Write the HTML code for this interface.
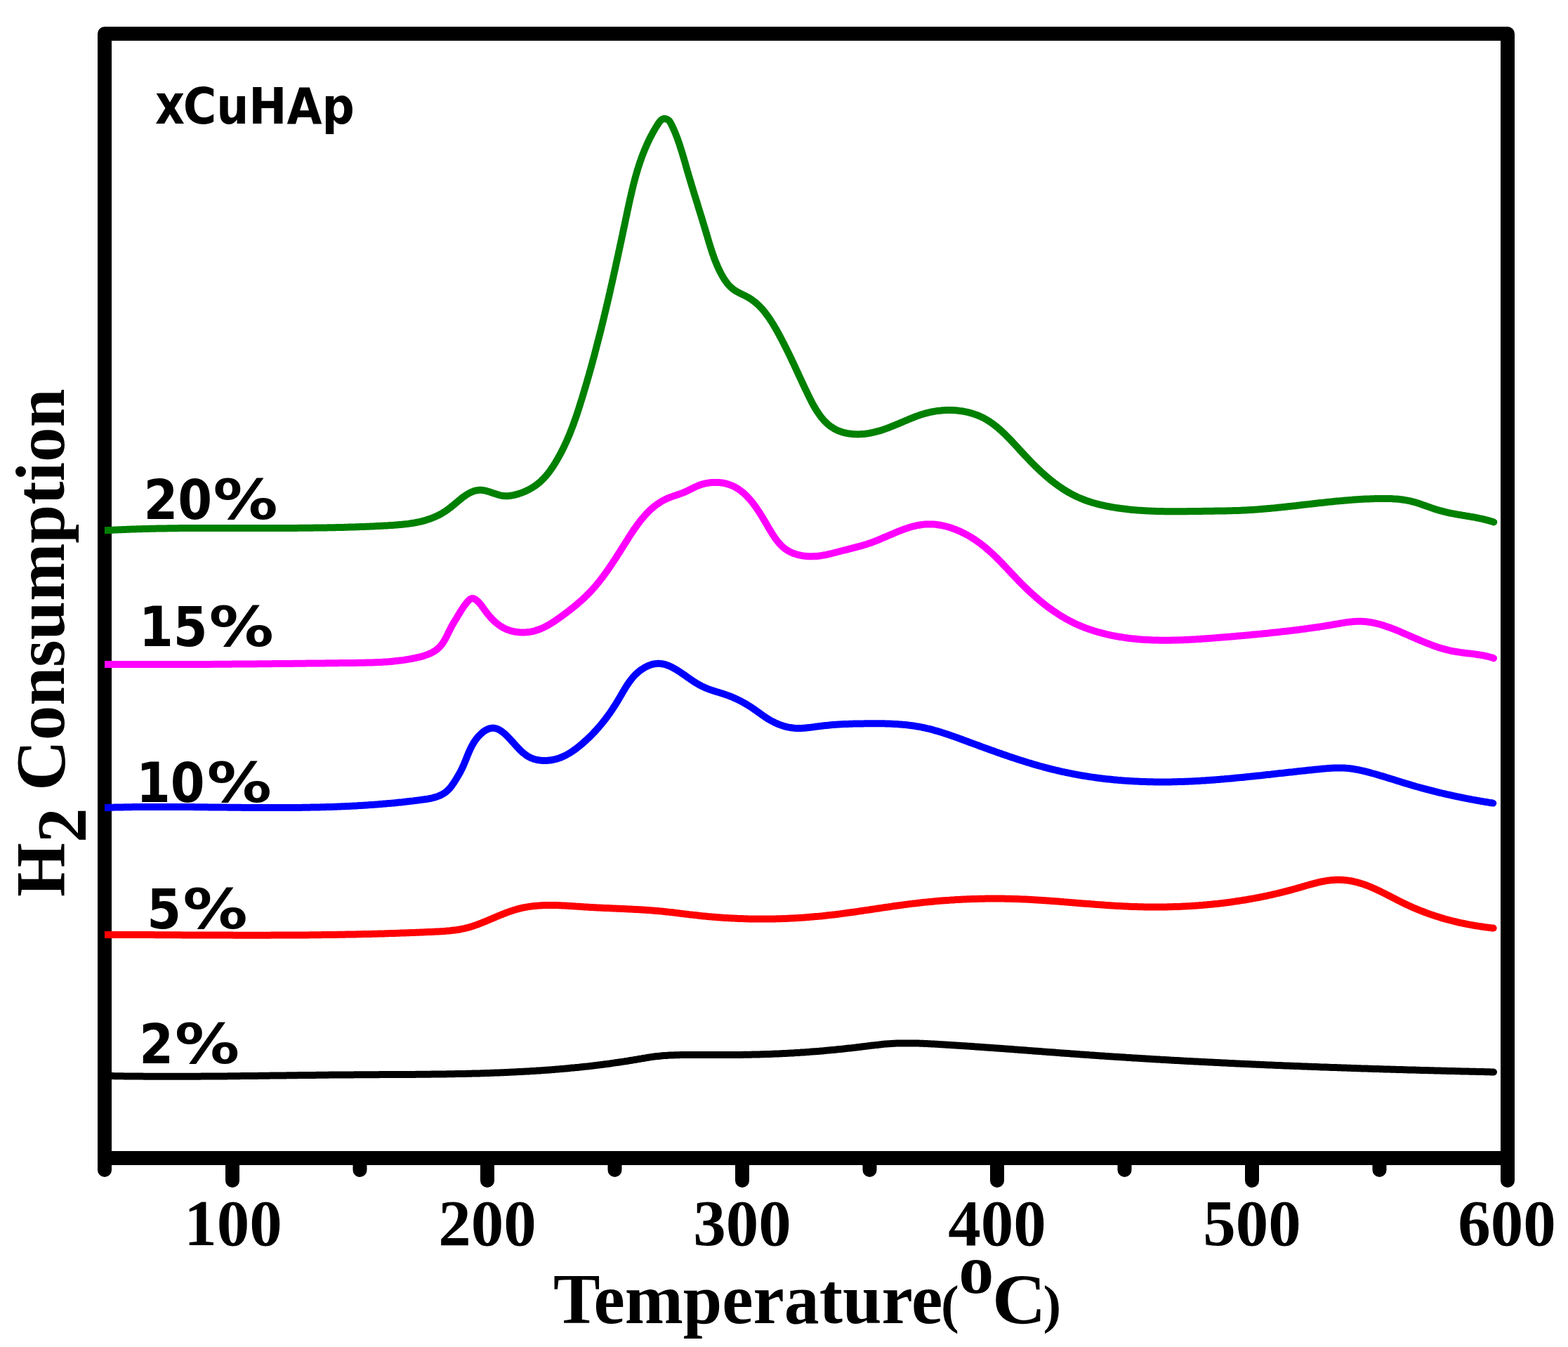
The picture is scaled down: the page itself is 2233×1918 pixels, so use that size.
<!DOCTYPE html>
<html><head><meta charset="utf-8"><title>H2 Consumption vs Temperature (xCuHAp)</title>
<style>
html,body{margin:0;padding:0;background:#fff;}
body{width:2233px;height:1918px;overflow:hidden;}
svg{display:block;}
.serif{font-family:"Liberation Serif",serif;font-weight:bold;}
.sc{font-family:"DejaVu Sans Condensed","DejaVu Sans","Liberation Sans",sans-serif;font-stretch:condensed;font-weight:bold;}
.sb{font-family:"DejaVu Sans","Liberation Sans",sans-serif;font-weight:bold;}
</style></head>
<body>
<svg width="2233" height="1918" viewBox="0 0 2233 1918">
<rect x="0" y="0" width="2233" height="1918" fill="#fff"/>
<rect x="149" y="48" width="1998" height="1601" fill="none" stroke="#000" stroke-width="20" stroke-linejoin="round"/>
<g stroke="#000" stroke-width="20" stroke-linecap="round"><line x1="149.0" y1="1650" x2="149.0" y2="1666"/><line x1="331.0" y1="1650" x2="331.0" y2="1681"/><line x1="512.5" y1="1650" x2="512.5" y2="1666"/><line x1="694.0" y1="1650" x2="694.0" y2="1681"/><line x1="875.5" y1="1650" x2="875.5" y2="1666"/><line x1="1057.0" y1="1650" x2="1057.0" y2="1681"/><line x1="1238.5" y1="1650" x2="1238.5" y2="1666"/><line x1="1420.0" y1="1650" x2="1420.0" y2="1681"/><line x1="1601.5" y1="1650" x2="1601.5" y2="1666"/><line x1="1783.0" y1="1650" x2="1783.0" y2="1681"/><line x1="1964.5" y1="1650" x2="1964.5" y2="1666"/><line x1="2147.0" y1="1650" x2="2147.0" y2="1681"/></g>
<clipPath id="clip"><rect x="149" y="0" width="2000" height="1918"/></clipPath>
<g fill="none" stroke-width="10" stroke-linecap="round" stroke-linejoin="round" clip-path="url(#clip)">
<path d="M145.0,1531.8L147.0,1531.9 149.0,1531.9 151.0,1531.9 153.0,1532.0 155.0,1532.0 157.0,1532.1 159.0,1532.1 161.0,1532.1 163.0,1532.2 165.0,1532.2 167.0,1532.2 169.0,1532.3 171.0,1532.3 173.0,1532.3 175.0,1532.3 177.0,1532.4 179.0,1532.4 181.0,1532.4 183.0,1532.4 185.0,1532.5 187.0,1532.5 189.0,1532.5 191.0,1532.5 193.0,1532.6 195.0,1532.6 197.0,1532.6 199.0,1532.6 201.0,1532.6 203.0,1532.6 205.0,1532.7 207.0,1532.7 209.0,1532.7 211.0,1532.7 213.0,1532.7 215.0,1532.7 217.0,1532.7 219.0,1532.7 221.0,1532.7 223.0,1532.7 225.0,1532.8 227.0,1532.8 229.0,1532.8 231.0,1532.8 233.0,1532.8 235.0,1532.8 237.0,1532.8 239.0,1532.8 241.0,1532.8 243.0,1532.8 245.0,1532.8 247.0,1532.8 249.0,1532.8 251.0,1532.8 253.0,1532.8 255.0,1532.8 257.0,1532.8 259.0,1532.8 261.0,1532.8 263.0,1532.8 265.0,1532.7 267.0,1532.7 269.0,1532.7 271.0,1532.7 273.0,1532.7 275.0,1532.7 277.0,1532.7 279.0,1532.7 281.0,1532.7 283.0,1532.7 285.0,1532.7 287.0,1532.6 289.0,1532.6 291.0,1532.6 293.0,1532.6 295.0,1532.6 297.0,1532.6 299.0,1532.6 301.0,1532.5 303.0,1532.5 305.0,1532.5 307.0,1532.5 309.0,1532.5 311.0,1532.5 313.0,1532.4 315.0,1532.4 317.0,1532.4 319.0,1532.4 321.0,1532.4 323.0,1532.4 325.0,1532.3 327.0,1532.3 329.0,1532.3 331.0,1532.3 333.0,1532.3 335.0,1532.2 337.0,1532.2 339.0,1532.2 341.0,1532.2 343.0,1532.1 345.0,1532.1 347.0,1532.1 349.0,1532.1 350.9,1532.1 352.9,1532.0 354.9,1532.0 356.9,1532.0 358.9,1532.0 360.9,1531.9 362.9,1531.9 364.9,1531.9 366.9,1531.9 368.9,1531.8 370.9,1531.8 372.9,1531.8 374.9,1531.8 376.9,1531.7 378.9,1531.7 380.9,1531.7 382.9,1531.7 384.9,1531.6 386.9,1531.6 388.9,1531.6 390.9,1531.6 392.9,1531.5 394.9,1531.5 396.9,1531.5 398.9,1531.5 400.9,1531.4 402.9,1531.4 404.9,1531.4 406.9,1531.4 408.9,1531.3 410.9,1531.3 412.9,1531.3 414.9,1531.3 416.9,1531.2 418.9,1531.2 420.9,1531.2 422.9,1531.2 424.9,1531.1 426.9,1531.1 428.9,1531.1 430.9,1531.1 432.9,1531.0 434.9,1531.0 436.9,1531.0 438.9,1531.0 440.9,1531.0 442.9,1530.9 444.9,1530.9 446.9,1530.9 448.9,1530.9 450.9,1530.8 452.9,1530.8 454.9,1530.8 456.9,1530.8 458.9,1530.7 460.9,1530.7 462.9,1530.7 464.9,1530.7 466.9,1530.7 468.9,1530.6 470.9,1530.6 472.9,1530.6 474.9,1530.6 476.9,1530.6 478.9,1530.5 480.9,1530.5 482.9,1530.5 484.9,1530.5 486.9,1530.5 488.9,1530.5 490.9,1530.4 492.9,1530.4 494.9,1530.4 496.9,1530.4 498.9,1530.4 500.9,1530.4 502.9,1530.4 504.9,1530.3 506.9,1530.3 508.9,1530.3 510.9,1530.3 512.9,1530.3 514.9,1530.3 516.9,1530.3 518.9,1530.3 520.9,1530.2 522.9,1530.2 524.9,1530.2 526.9,1530.2 528.9,1530.2 530.9,1530.2 532.9,1530.2 534.9,1530.2 536.9,1530.2 538.9,1530.2 540.9,1530.1 542.9,1530.1 544.9,1530.1 546.9,1530.1 548.9,1530.1 550.9,1530.1 552.9,1530.1 554.9,1530.1 556.9,1530.1 558.9,1530.1 560.9,1530.0 562.9,1530.0 564.9,1530.0 566.9,1530.0 568.9,1530.0 570.9,1530.0 572.9,1530.0 574.9,1530.0 576.9,1530.0 578.9,1529.9 580.9,1529.9 582.9,1529.9 584.9,1529.9 586.9,1529.9 588.9,1529.9 590.9,1529.9 592.9,1529.8 594.9,1529.8 596.9,1529.8 598.9,1529.8 600.9,1529.8 602.9,1529.8 604.9,1529.7 606.9,1529.7 608.9,1529.7 610.9,1529.7 612.9,1529.7 614.9,1529.6 616.9,1529.6 618.9,1529.6 620.9,1529.6 622.9,1529.5 624.9,1529.5 626.9,1529.5 628.9,1529.5 630.9,1529.4 632.9,1529.4 634.9,1529.4 636.9,1529.3 638.9,1529.3 640.9,1529.3 642.9,1529.2 644.9,1529.2 646.9,1529.2 648.9,1529.1 650.9,1529.1 652.9,1529.1 654.9,1529.0 656.9,1529.0 658.9,1528.9 660.9,1528.9 662.9,1528.9 664.9,1528.8 666.9,1528.8 668.9,1528.7 670.9,1528.7 672.9,1528.6 674.9,1528.6 676.9,1528.5 678.9,1528.5 680.9,1528.4 682.9,1528.4 684.9,1528.3 686.9,1528.2 688.9,1528.2 690.9,1528.1 692.9,1528.0 694.9,1528.0 696.9,1527.9 698.9,1527.8 700.9,1527.8 702.9,1527.7 704.9,1527.6 706.9,1527.6 708.9,1527.5 710.9,1527.4 712.9,1527.3 714.9,1527.2 716.9,1527.2 718.9,1527.1 720.9,1527.0 722.8,1526.9 724.8,1526.8 726.8,1526.7 728.8,1526.6 730.8,1526.5 732.8,1526.4 734.8,1526.3 736.8,1526.2 738.8,1526.1 740.8,1526.0 742.8,1525.9 744.8,1525.8 746.8,1525.7 748.8,1525.6 750.8,1525.5 752.8,1525.4 754.8,1525.2 756.8,1525.1 758.8,1525.0 760.8,1524.9 762.8,1524.8 764.8,1524.6 766.7,1524.5 768.7,1524.4 770.7,1524.2 772.7,1524.1 774.7,1523.9 776.7,1523.8 778.7,1523.7 780.7,1523.5 782.7,1523.4 784.7,1523.2 786.7,1523.1 788.7,1522.9 790.7,1522.7 792.7,1522.6 794.6,1522.4 796.6,1522.3 798.6,1522.1 800.6,1521.9 802.6,1521.7 804.6,1521.6 806.6,1521.4 808.6,1521.2 810.6,1521.0 812.6,1520.8 814.6,1520.6 816.6,1520.4 818.5,1520.3 820.5,1520.1 822.5,1519.9 824.5,1519.7 826.5,1519.4 828.5,1519.2 830.5,1519.0 832.5,1518.8 834.4,1518.6 836.4,1518.4 838.4,1518.2 840.4,1517.9 842.4,1517.7 844.4,1517.5 846.4,1517.2 848.4,1517.0 850.3,1516.8 852.3,1516.5 854.3,1516.3 856.3,1516.0 858.3,1515.8 860.3,1515.5 862.2,1515.2 864.2,1515.0 866.2,1514.7 868.2,1514.5 870.2,1514.2 872.1,1513.9 874.1,1513.6 876.1,1513.3 878.1,1513.1 880.1,1512.8 882.0,1512.5 884.0,1512.2 886.0,1511.9 888.0,1511.6 889.9,1511.3 891.9,1511.0 893.9,1510.7 895.9,1510.3 897.8,1510.0 899.8,1509.7 901.8,1509.4 903.8,1509.0 905.7,1508.7 907.7,1508.4 909.7,1508.0 911.6,1507.7 913.6,1507.4 915.6,1507.0 917.5,1506.7 919.5,1506.4 921.5,1506.0 923.5,1505.7 925.4,1505.4 927.4,1505.1 929.4,1504.8 931.4,1504.6 933.3,1504.3 935.3,1504.1 937.3,1503.9 939.3,1503.7 941.3,1503.5 943.2,1503.3 945.2,1503.1 947.2,1503.0 949.2,1502.9 951.2,1502.7 953.2,1502.6 955.2,1502.5 957.2,1502.4 959.2,1502.4 961.1,1502.3 963.1,1502.3 965.1,1502.2 967.1,1502.2 969.1,1502.1 971.1,1502.1 973.1,1502.1 975.1,1502.1 977.1,1502.1 979.1,1502.1 981.1,1502.1 983.1,1502.1 985.1,1502.1 987.1,1502.1 989.1,1502.1 991.1,1502.1 993.1,1502.1 995.1,1502.1 997.1,1502.1 999.1,1502.1 1001.1,1502.1 1003.1,1502.1 1005.1,1502.1 1007.1,1502.1 1009.1,1502.1 1011.1,1502.1 1013.1,1502.1 1015.1,1502.1 1017.1,1502.1 1019.2,1502.1 1021.2,1502.1 1023.2,1502.1 1025.2,1502.1 1027.2,1502.1 1029.2,1502.1 1031.2,1502.1 1033.2,1502.1 1035.2,1502.1 1037.2,1502.1 1039.2,1502.1 1041.2,1502.0 1043.2,1502.0 1045.2,1502.0 1047.2,1502.0 1049.2,1502.0 1051.2,1501.9 1053.2,1501.9 1055.2,1501.9 1057.2,1501.9 1059.2,1501.8 1061.2,1501.8 1063.2,1501.8 1065.2,1501.7 1067.2,1501.7 1069.2,1501.7 1071.2,1501.6 1073.2,1501.6 1075.2,1501.5 1077.2,1501.5 1079.2,1501.4 1081.2,1501.4 1083.2,1501.3 1085.2,1501.3 1087.2,1501.2 1089.2,1501.1 1091.2,1501.1 1093.2,1501.0 1095.2,1500.9 1097.2,1500.9 1099.2,1500.8 1101.2,1500.7 1103.2,1500.6 1105.2,1500.6 1107.1,1500.5 1109.1,1500.4 1111.1,1500.3 1113.1,1500.2 1115.1,1500.1 1117.1,1500.0 1119.1,1499.9 1121.1,1499.8 1123.1,1499.7 1125.1,1499.6 1127.1,1499.5 1129.1,1499.4 1131.1,1499.2 1133.1,1499.1 1135.1,1499.0 1137.1,1498.9 1139.1,1498.8 1141.1,1498.6 1143.1,1498.5 1145.1,1498.4 1147.1,1498.2 1149.1,1498.1 1151.0,1497.9 1153.0,1497.8 1155.0,1497.6 1157.0,1497.5 1159.0,1497.3 1161.0,1497.2 1163.0,1497.0 1165.0,1496.9 1167.0,1496.7 1169.0,1496.5 1171.0,1496.4 1173.0,1496.2 1175.0,1496.0 1177.0,1495.8 1178.9,1495.6 1180.9,1495.5 1182.9,1495.3 1184.9,1495.1 1186.9,1494.9 1188.9,1494.7 1190.9,1494.5 1192.9,1494.3 1194.9,1494.1 1196.9,1493.9 1198.8,1493.7 1200.8,1493.5 1202.8,1493.3 1204.8,1493.0 1206.8,1492.8 1208.8,1492.6 1210.8,1492.4 1212.8,1492.2 1214.8,1491.9 1216.7,1491.7 1218.7,1491.5 1220.7,1491.2 1222.7,1491.0 1224.7,1490.8 1226.7,1490.5 1228.7,1490.3 1230.7,1490.1 1232.7,1489.8 1234.6,1489.6 1236.6,1489.3 1238.6,1489.1 1240.6,1488.8 1242.6,1488.6 1244.6,1488.4 1246.6,1488.1 1248.6,1487.9 1250.5,1487.7 1252.5,1487.4 1254.5,1487.2 1256.5,1487.0 1258.5,1486.8 1260.5,1486.6 1262.5,1486.5 1264.5,1486.3 1266.5,1486.2 1268.5,1486.0 1270.5,1485.9 1272.4,1485.8 1274.4,1485.7 1276.4,1485.6 1278.4,1485.6 1280.4,1485.5 1282.4,1485.5 1284.4,1485.4 1286.4,1485.4 1288.4,1485.4 1290.4,1485.4 1292.4,1485.4 1294.4,1485.4 1296.4,1485.4 1298.4,1485.4 1300.4,1485.4 1302.4,1485.5 1304.3,1485.5 1306.3,1485.6 1308.3,1485.6 1310.3,1485.7 1312.3,1485.8 1314.3,1485.8 1316.3,1485.9 1318.3,1486.0 1320.3,1486.1 1322.3,1486.2 1324.3,1486.3 1326.3,1486.4 1328.3,1486.5 1330.3,1486.6 1332.3,1486.7 1334.3,1486.8 1336.3,1486.9 1338.3,1487.1 1340.3,1487.2 1342.3,1487.3 1344.3,1487.4 1346.3,1487.5 1348.3,1487.7 1350.3,1487.8 1352.3,1487.9 1354.3,1488.0 1356.2,1488.2 1358.2,1488.3 1360.2,1488.4 1362.2,1488.5 1364.2,1488.7 1366.2,1488.8 1368.2,1488.9 1370.2,1489.1 1372.2,1489.2 1374.2,1489.3 1376.2,1489.4 1378.2,1489.6 1380.2,1489.7 1382.2,1489.8 1384.2,1490.0 1386.2,1490.1 1388.2,1490.3 1390.2,1490.4 1392.2,1490.5 1394.2,1490.7 1396.1,1490.8 1398.1,1490.9 1400.1,1491.1 1402.1,1491.2 1404.1,1491.4 1406.1,1491.5 1408.1,1491.7 1410.1,1491.8 1412.1,1491.9 1414.1,1492.1 1416.1,1492.2 1418.1,1492.4 1420.1,1492.5 1422.1,1492.7 1424.1,1492.8 1426.1,1492.9 1428.1,1493.1 1430.1,1493.2 1432.0,1493.4 1434.0,1493.5 1436.0,1493.7 1438.0,1493.8 1440.0,1494.0 1442.0,1494.1 1444.0,1494.3 1446.0,1494.4 1448.0,1494.6 1450.0,1494.7 1452.0,1494.9 1454.0,1495.0 1456.0,1495.2 1458.0,1495.3 1460.0,1495.5 1462.0,1495.6 1463.9,1495.8 1465.9,1495.9 1467.9,1496.1 1469.9,1496.2 1471.9,1496.4 1473.9,1496.5 1475.9,1496.7 1477.9,1496.8 1479.9,1497.0 1481.9,1497.1 1483.9,1497.3 1485.9,1497.4 1487.9,1497.6 1489.9,1497.7 1491.9,1497.9 1493.9,1498.0 1495.8,1498.2 1497.8,1498.3 1499.8,1498.5 1501.8,1498.6 1503.8,1498.8 1505.8,1498.9 1507.8,1499.1 1509.8,1499.2 1511.8,1499.4 1513.8,1499.5 1515.8,1499.7 1517.8,1499.8 1519.8,1500.0 1521.8,1500.1 1523.8,1500.2 1525.8,1500.4 1527.8,1500.5 1529.7,1500.7 1531.7,1500.8 1533.7,1501.0 1535.7,1501.1 1537.7,1501.3 1539.7,1501.4 1541.7,1501.5 1543.7,1501.7 1545.7,1501.8 1547.7,1502.0 1549.7,1502.1 1551.7,1502.3 1553.7,1502.4 1555.7,1502.5 1557.7,1502.7 1559.7,1502.8 1561.7,1502.9 1563.6,1503.1 1565.6,1503.2 1567.6,1503.4 1569.6,1503.5 1571.6,1503.6 1573.6,1503.8 1575.6,1503.9 1577.6,1504.0 1579.6,1504.2 1581.6,1504.3 1583.6,1504.4 1585.6,1504.6 1587.6,1504.7 1589.6,1504.8 1591.6,1505.0 1593.6,1505.1 1595.6,1505.2 1597.6,1505.3 1599.6,1505.5 1601.6,1505.6 1603.6,1505.7 1605.5,1505.9 1607.5,1506.0 1609.5,1506.1 1611.5,1506.2 1613.5,1506.4 1615.5,1506.5 1617.5,1506.6 1619.5,1506.7 1621.5,1506.8 1623.5,1507.0 1625.5,1507.1 1627.5,1507.2 1629.5,1507.3 1631.5,1507.5 1633.5,1507.6 1635.5,1507.7 1637.5,1507.8 1639.5,1507.9 1641.5,1508.1 1643.5,1508.2 1645.5,1508.3 1647.5,1508.4 1649.5,1508.5 1651.5,1508.6 1653.4,1508.8 1655.4,1508.9 1657.4,1509.0 1659.4,1509.1 1661.4,1509.2 1663.4,1509.3 1665.4,1509.4 1667.4,1509.6 1669.4,1509.7 1671.4,1509.8 1673.4,1509.9 1675.4,1510.0 1677.4,1510.1 1679.4,1510.2 1681.4,1510.3 1683.4,1510.4 1685.4,1510.6 1687.4,1510.7 1689.4,1510.8 1691.4,1510.9 1693.4,1511.0 1695.4,1511.1 1697.4,1511.2 1699.4,1511.3 1701.4,1511.4 1703.4,1511.5 1705.4,1511.6 1707.4,1511.7 1709.4,1511.8 1711.4,1511.9 1713.3,1512.0 1715.3,1512.1 1717.3,1512.2 1719.3,1512.3 1721.3,1512.4 1723.3,1512.5 1725.3,1512.6 1727.3,1512.7 1729.3,1512.8 1731.3,1512.9 1733.3,1513.0 1735.3,1513.1 1737.3,1513.2 1739.3,1513.3 1741.3,1513.4 1743.3,1513.5 1745.3,1513.6 1747.3,1513.7 1749.3,1513.8 1751.3,1513.9 1753.3,1514.0 1755.3,1514.1 1757.3,1514.2 1759.3,1514.3 1761.3,1514.4 1763.3,1514.5 1765.3,1514.6 1767.3,1514.7 1769.3,1514.8 1771.3,1514.8 1773.3,1514.9 1775.3,1515.0 1777.3,1515.1 1779.3,1515.2 1781.3,1515.3 1783.3,1515.4 1785.3,1515.5 1787.3,1515.6 1789.3,1515.7 1791.2,1515.7 1793.2,1515.8 1795.2,1515.9 1797.2,1516.0 1799.2,1516.1 1801.2,1516.2 1803.2,1516.3 1805.2,1516.4 1807.2,1516.4 1809.2,1516.5 1811.2,1516.6 1813.2,1516.7 1815.2,1516.8 1817.2,1516.9 1819.2,1516.9 1821.2,1517.0 1823.2,1517.1 1825.2,1517.2 1827.2,1517.3 1829.2,1517.4 1831.2,1517.4 1833.2,1517.5 1835.2,1517.6 1837.2,1517.7 1839.2,1517.8 1841.2,1517.8 1843.2,1517.9 1845.2,1518.0 1847.2,1518.1 1849.2,1518.1 1851.2,1518.2 1853.2,1518.3 1855.2,1518.4 1857.2,1518.5 1859.2,1518.5 1861.2,1518.6 1863.2,1518.7 1865.2,1518.8 1867.2,1518.8 1869.2,1518.9 1871.2,1519.0 1873.2,1519.1 1875.2,1519.1 1877.2,1519.2 1879.2,1519.3 1881.2,1519.4 1883.2,1519.4 1885.2,1519.5 1887.2,1519.6 1889.2,1519.6 1891.2,1519.7 1893.2,1519.8 1895.2,1519.9 1897.2,1519.9 1899.2,1520.0 1901.2,1520.1 1903.1,1520.1 1905.1,1520.2 1907.1,1520.3 1909.1,1520.3 1911.1,1520.4 1913.1,1520.5 1915.1,1520.6 1917.1,1520.6 1919.1,1520.7 1921.1,1520.8 1923.1,1520.8 1925.1,1520.9 1927.1,1521.0 1929.1,1521.0 1931.1,1521.1 1933.1,1521.2 1935.1,1521.2 1937.1,1521.3 1939.1,1521.4 1941.1,1521.4 1943.1,1521.5 1945.1,1521.5 1947.1,1521.6 1949.1,1521.7 1951.1,1521.7 1953.1,1521.8 1955.1,1521.9 1957.1,1521.9 1959.1,1522.0 1961.1,1522.0 1963.1,1522.1 1965.1,1522.2 1967.1,1522.2 1969.1,1522.3 1971.1,1522.4 1973.1,1522.4 1975.1,1522.5 1977.1,1522.5 1979.1,1522.6 1981.1,1522.7 1983.1,1522.7 1985.1,1522.8 1987.1,1522.8 1989.1,1522.9 1991.1,1522.9 1993.1,1523.0 1995.1,1523.1 1997.1,1523.1 1999.1,1523.2 2001.1,1523.2 2003.1,1523.3 2005.1,1523.4 2007.1,1523.4 2009.1,1523.5 2011.1,1523.5 2013.1,1523.6 2015.1,1523.6 2017.1,1523.7 2019.1,1523.7 2021.1,1523.8 2023.1,1523.9 2025.1,1523.9 2027.1,1524.0 2029.1,1524.0 2031.1,1524.1 2033.1,1524.1 2035.1,1524.2 2037.1,1524.2 2039.1,1524.3 2041.1,1524.3 2043.0,1524.4 2045.0,1524.4 2047.0,1524.5 2049.0,1524.6 2051.0,1524.6 2053.0,1524.7 2055.0,1524.7 2057.0,1524.8 2059.0,1524.8 2061.0,1524.9 2063.0,1524.9 2065.0,1525.0 2067.0,1525.0 2069.0,1525.1 2071.0,1525.1 2073.0,1525.2 2075.0,1525.2 2077.0,1525.3 2079.0,1525.3 2081.0,1525.4 2083.0,1525.4 2085.0,1525.5 2087.0,1525.5 2089.0,1525.6 2091.0,1525.6 2093.0,1525.7 2095.0,1525.7 2097.0,1525.8 2099.0,1525.8 2101.0,1525.8 2103.0,1525.9 2105.0,1525.9 2107.0,1526.0 2109.0,1526.0 2111.0,1526.1 2113.0,1526.1 2115.0,1526.2 2117.0,1526.2 2119.0,1526.3 2121.0,1526.3 2123.0,1526.4 2125.0,1526.4 2127.0,1526.5" stroke="#000000"/>
<path d="M145.0,1330.8L147.0,1330.8 149.0,1330.8 151.0,1330.9 153.0,1330.9 155.0,1330.9 157.0,1330.9 159.0,1330.9 161.0,1330.9 163.0,1330.9 165.0,1330.9 167.0,1330.9 169.0,1330.9 171.0,1330.9 173.0,1330.9 175.0,1330.9 177.0,1330.9 179.0,1330.9 181.0,1331.0 183.0,1331.0 185.0,1331.0 187.0,1331.0 189.0,1331.0 191.0,1331.0 192.9,1331.0 194.9,1331.0 196.9,1331.0 198.9,1331.0 200.9,1331.0 202.9,1331.1 204.9,1331.1 206.9,1331.1 208.9,1331.1 210.9,1331.1 212.9,1331.1 214.9,1331.1 216.9,1331.1 218.9,1331.1 220.9,1331.2 222.9,1331.2 224.9,1331.2 226.9,1331.2 228.9,1331.2 230.9,1331.2 232.9,1331.2 234.9,1331.2 236.9,1331.2 238.9,1331.2 240.9,1331.3 242.9,1331.3 244.9,1331.3 246.9,1331.3 248.9,1331.3 250.9,1331.3 252.9,1331.3 254.9,1331.3 256.9,1331.3 258.9,1331.4 260.9,1331.4 262.9,1331.4 264.9,1331.4 266.9,1331.4 268.9,1331.4 270.9,1331.4 272.9,1331.4 274.9,1331.4 276.9,1331.4 278.9,1331.5 280.9,1331.5 282.9,1331.5 284.9,1331.5 286.9,1331.5 288.9,1331.5 290.9,1331.5 292.9,1331.5 294.9,1331.5 296.9,1331.5 298.9,1331.5 300.9,1331.6 302.9,1331.6 304.9,1331.6 306.9,1331.6 308.9,1331.6 310.9,1331.6 312.9,1331.6 314.9,1331.6 316.9,1331.6 318.9,1331.6 320.9,1331.6 322.9,1331.6 324.8,1331.6 326.8,1331.6 328.8,1331.6 330.8,1331.6 332.8,1331.7 334.8,1331.7 336.8,1331.7 338.8,1331.7 340.8,1331.7 342.8,1331.7 344.8,1331.7 346.8,1331.7 348.8,1331.7 350.8,1331.7 352.8,1331.7 354.8,1331.7 356.8,1331.7 358.8,1331.7 360.8,1331.7 362.8,1331.7 364.8,1331.7 366.8,1331.7 368.8,1331.7 370.8,1331.7 372.8,1331.7 374.8,1331.7 376.8,1331.7 378.8,1331.7 380.8,1331.7 382.8,1331.7 384.8,1331.7 386.8,1331.6 388.8,1331.6 390.8,1331.6 392.8,1331.6 394.8,1331.6 396.8,1331.6 398.8,1331.6 400.8,1331.6 402.8,1331.6 404.8,1331.6 406.8,1331.6 408.8,1331.6 410.8,1331.6 412.8,1331.5 414.8,1331.5 416.8,1331.5 418.8,1331.5 420.8,1331.5 422.8,1331.5 424.8,1331.5 426.8,1331.5 428.8,1331.4 430.8,1331.4 432.8,1331.4 434.8,1331.4 436.8,1331.4 438.8,1331.4 440.8,1331.3 442.8,1331.3 444.8,1331.3 446.8,1331.3 448.8,1331.3 450.8,1331.2 452.8,1331.2 454.8,1331.2 456.8,1331.2 458.8,1331.1 460.8,1331.1 462.8,1331.1 464.8,1331.1 466.8,1331.0 468.8,1331.0 470.8,1331.0 472.8,1331.0 474.8,1330.9 476.8,1330.9 478.8,1330.9 480.8,1330.8 482.8,1330.8 484.8,1330.8 486.8,1330.7 488.8,1330.7 490.8,1330.7 492.8,1330.6 494.8,1330.6 496.8,1330.6 498.8,1330.5 500.8,1330.5 502.7,1330.4 504.7,1330.4 506.7,1330.4 508.7,1330.3 510.7,1330.3 512.7,1330.2 514.7,1330.2 516.7,1330.1 518.7,1330.1 520.7,1330.1 522.7,1330.0 524.7,1330.0 526.7,1329.9 528.7,1329.9 530.7,1329.8 532.7,1329.8 534.7,1329.7 536.7,1329.7 538.7,1329.6 540.7,1329.6 542.7,1329.5 544.7,1329.4 546.7,1329.4 548.7,1329.3 550.7,1329.3 552.7,1329.2 554.7,1329.1 556.7,1329.1 558.7,1329.0 560.7,1329.0 562.7,1328.9 564.7,1328.8 566.7,1328.8 568.7,1328.7 570.7,1328.6 572.7,1328.6 574.7,1328.5 576.7,1328.4 578.7,1328.3 580.7,1328.3 582.7,1328.2 584.7,1328.1 586.7,1328.0 588.7,1328.0 590.7,1327.9 592.6,1327.8 594.6,1327.7 596.6,1327.7 598.6,1327.6 600.6,1327.5 602.6,1327.4 604.6,1327.3 606.6,1327.2 608.6,1327.1 610.6,1327.1 612.6,1327.0 614.6,1326.9 616.6,1326.8 618.6,1326.7 620.6,1326.6 622.6,1326.5 624.6,1326.4 626.6,1326.3 628.6,1326.2 630.6,1326.1 632.6,1325.9 634.5,1325.8 636.5,1325.6 638.5,1325.4 640.5,1325.3 642.5,1325.1 644.4,1324.8 646.4,1324.6 648.4,1324.4 650.3,1324.1 652.3,1323.8 654.2,1323.5 656.2,1323.1 658.1,1322.7 660.1,1322.3 662.0,1321.9 663.9,1321.4 665.8,1321.0 667.7,1320.4 669.7,1319.9 671.6,1319.3 673.4,1318.7 675.3,1318.1 677.2,1317.4 679.1,1316.7 681.0,1316.1 682.8,1315.3 684.7,1314.6 686.6,1313.9 688.4,1313.1 690.3,1312.4 692.2,1311.6 694.0,1310.8 695.9,1310.0 697.8,1309.3 699.6,1308.5 701.5,1307.7 703.3,1306.9 705.2,1306.1 707.0,1305.3 708.9,1304.5 710.8,1303.8 712.6,1303.0 714.5,1302.2 716.4,1301.5 718.2,1300.7 720.1,1300.0 722.0,1299.3 723.9,1298.6 725.8,1297.9 727.7,1297.3 729.6,1296.7 731.5,1296.1 733.4,1295.5 735.3,1294.9 737.2,1294.4 739.1,1293.9 741.0,1293.4 743.0,1292.9 744.9,1292.5 746.9,1292.1 748.8,1291.8 750.8,1291.4 752.7,1291.1 754.7,1290.8 756.6,1290.6 758.6,1290.3 760.6,1290.1 762.6,1289.9 764.5,1289.7 766.5,1289.6 768.5,1289.4 770.5,1289.3 772.5,1289.2 774.5,1289.1 776.4,1289.1 778.4,1289.0 780.4,1289.0 782.4,1289.0 784.4,1289.0 786.4,1289.0 788.4,1289.0 790.4,1289.0 792.4,1289.1 794.4,1289.1 796.4,1289.2 798.4,1289.3 800.4,1289.4 802.5,1289.5 804.5,1289.6 806.5,1289.7 808.5,1289.8 810.5,1289.9 812.5,1290.0 814.5,1290.2 816.5,1290.3 818.5,1290.4 820.5,1290.6 822.5,1290.7 824.6,1290.8 826.6,1291.0 828.6,1291.1 830.6,1291.2 832.6,1291.4 834.6,1291.5 836.6,1291.6 838.6,1291.7 840.6,1291.9 842.6,1292.0 844.6,1292.1 846.6,1292.2 848.6,1292.3 850.6,1292.4 852.6,1292.5 854.6,1292.6 856.6,1292.7 858.6,1292.8 860.6,1292.9 862.6,1293.0 864.6,1293.1 866.6,1293.1 868.6,1293.2 870.6,1293.3 872.6,1293.4 874.6,1293.5 876.6,1293.6 878.6,1293.7 880.5,1293.7 882.5,1293.8 884.5,1293.9 886.5,1294.0 888.5,1294.1 890.5,1294.2 892.5,1294.3 894.5,1294.4 896.5,1294.5 898.5,1294.6 900.4,1294.7 902.4,1294.8 904.4,1294.9 906.4,1295.0 908.4,1295.1 910.4,1295.2 912.4,1295.3 914.3,1295.4 916.3,1295.5 918.3,1295.7 920.3,1295.8 922.3,1295.9 924.3,1296.1 926.3,1296.2 928.2,1296.4 930.2,1296.5 932.2,1296.7 934.2,1296.9 936.2,1297.0 938.2,1297.2 940.1,1297.4 942.1,1297.6 944.1,1297.8 946.1,1298.0 948.1,1298.2 950.1,1298.4 952.0,1298.6 954.0,1298.9 956.0,1299.1 958.0,1299.3 960.0,1299.5 962.0,1299.8 964.0,1300.0 965.9,1300.2 967.9,1300.5 969.9,1300.7 971.9,1301.0 973.9,1301.2 975.9,1301.4 977.9,1301.7 979.8,1301.9 981.8,1302.2 983.8,1302.4 985.8,1302.6 987.8,1302.9 989.8,1303.1 991.8,1303.3 993.8,1303.5 995.7,1303.8 997.7,1304.0 999.7,1304.2 1001.7,1304.4 1003.7,1304.6 1005.7,1304.8 1007.7,1305.0 1009.7,1305.2 1011.7,1305.3 1013.7,1305.5 1015.7,1305.7 1017.7,1305.8 1019.7,1306.0 1021.6,1306.2 1023.6,1306.3 1025.6,1306.5 1027.6,1306.6 1029.6,1306.7 1031.6,1306.9 1033.6,1307.0 1035.6,1307.1 1037.6,1307.2 1039.6,1307.3 1041.6,1307.4 1043.6,1307.6 1045.6,1307.6 1047.6,1307.7 1049.6,1307.8 1051.6,1307.9 1053.6,1308.0 1055.6,1308.1 1057.6,1308.1 1059.6,1308.2 1061.6,1308.3 1063.6,1308.3 1065.6,1308.4 1067.6,1308.4 1069.6,1308.4 1071.6,1308.5 1073.6,1308.5 1075.6,1308.5 1077.6,1308.5 1079.6,1308.6 1081.6,1308.6 1083.6,1308.6 1085.6,1308.6 1087.6,1308.6 1089.6,1308.6 1091.6,1308.6 1093.6,1308.5 1095.6,1308.5 1097.6,1308.5 1099.6,1308.5 1101.6,1308.4 1103.6,1308.4 1105.6,1308.3 1107.6,1308.3 1109.6,1308.2 1111.6,1308.2 1113.6,1308.1 1115.6,1308.0 1117.6,1308.0 1119.6,1307.9 1121.6,1307.8 1123.6,1307.7 1125.6,1307.6 1127.6,1307.5 1129.6,1307.4 1131.6,1307.3 1133.6,1307.2 1135.6,1307.1 1137.6,1306.9 1139.5,1306.8 1141.5,1306.7 1143.5,1306.6 1145.5,1306.4 1147.5,1306.3 1149.5,1306.1 1151.5,1306.0 1153.5,1305.8 1155.5,1305.6 1157.5,1305.5 1159.5,1305.3 1161.5,1305.1 1163.5,1304.9 1165.5,1304.8 1167.4,1304.6 1169.4,1304.4 1171.4,1304.2 1173.4,1304.0 1175.4,1303.8 1177.4,1303.5 1179.4,1303.3 1181.4,1303.1 1183.3,1302.9 1185.3,1302.6 1187.3,1302.4 1189.3,1302.2 1191.3,1301.9 1193.3,1301.7 1195.3,1301.4 1197.2,1301.2 1199.2,1300.9 1201.2,1300.6 1203.2,1300.4 1205.2,1300.1 1207.1,1299.8 1209.1,1299.6 1211.1,1299.3 1213.1,1299.0 1215.1,1298.7 1217.0,1298.5 1219.0,1298.2 1221.0,1297.9 1223.0,1297.6 1225.0,1297.3 1226.9,1297.0 1228.9,1296.7 1230.9,1296.4 1232.9,1296.1 1234.9,1295.9 1236.8,1295.6 1238.8,1295.3 1240.8,1295.0 1242.8,1294.7 1244.7,1294.4 1246.7,1294.1 1248.7,1293.8 1250.7,1293.5 1252.7,1293.2 1254.6,1292.9 1256.6,1292.6 1258.6,1292.3 1260.6,1292.0 1262.5,1291.7 1264.5,1291.5 1266.5,1291.2 1268.5,1290.9 1270.5,1290.6 1272.4,1290.3 1274.4,1290.0 1276.4,1289.8 1278.4,1289.5 1280.4,1289.2 1282.3,1288.9 1284.3,1288.7 1286.3,1288.4 1288.3,1288.1 1290.3,1287.9 1292.2,1287.6 1294.2,1287.4 1296.2,1287.1 1298.2,1286.9 1300.2,1286.6 1302.2,1286.4 1304.1,1286.2 1306.1,1285.9 1308.1,1285.7 1310.1,1285.5 1312.1,1285.3 1314.1,1285.1 1316.1,1284.8 1318.0,1284.6 1320.0,1284.4 1322.0,1284.2 1324.0,1284.0 1326.0,1283.9 1328.0,1283.7 1330.0,1283.5 1332.0,1283.3 1333.9,1283.1 1335.9,1283.0 1337.9,1282.8 1339.9,1282.6 1341.9,1282.5 1343.9,1282.3 1345.9,1282.2 1347.9,1282.0 1349.9,1281.9 1351.9,1281.8 1353.8,1281.6 1355.8,1281.5 1357.8,1281.4 1359.8,1281.2 1361.8,1281.1 1363.8,1281.0 1365.8,1280.9 1367.8,1280.8 1369.8,1280.7 1371.8,1280.6 1373.8,1280.5 1375.8,1280.4 1377.8,1280.3 1379.8,1280.3 1381.8,1280.2 1383.8,1280.1 1385.7,1280.0 1387.7,1280.0 1389.7,1279.9 1391.7,1279.9 1393.7,1279.8 1395.7,1279.8 1397.7,1279.7 1399.7,1279.7 1401.7,1279.7 1403.7,1279.6 1405.7,1279.6 1407.7,1279.6 1409.7,1279.6 1411.7,1279.5 1413.7,1279.5 1415.7,1279.5 1417.7,1279.5 1419.7,1279.5 1421.7,1279.5 1423.7,1279.6 1425.7,1279.6 1427.7,1279.6 1429.7,1279.6 1431.7,1279.7 1433.7,1279.7 1435.7,1279.7 1437.6,1279.8 1439.6,1279.8 1441.6,1279.9 1443.6,1279.9 1445.6,1280.0 1447.6,1280.1 1449.6,1280.1 1451.6,1280.2 1453.6,1280.3 1455.6,1280.4 1457.6,1280.5 1459.6,1280.5 1461.6,1280.6 1463.6,1280.7 1465.6,1280.8 1467.6,1281.0 1469.6,1281.1 1471.6,1281.2 1473.6,1281.3 1475.6,1281.4 1477.6,1281.5 1479.6,1281.7 1481.6,1281.8 1483.6,1281.9 1485.6,1282.0 1487.5,1282.2 1489.5,1282.3 1491.5,1282.5 1493.5,1282.6 1495.5,1282.7 1497.5,1282.9 1499.5,1283.0 1501.5,1283.2 1503.5,1283.3 1505.5,1283.5 1507.5,1283.6 1509.5,1283.8 1511.5,1283.9 1513.5,1284.1 1515.5,1284.3 1517.5,1284.4 1519.5,1284.6 1521.5,1284.7 1523.5,1284.9 1525.5,1285.1 1527.5,1285.2 1529.5,1285.4 1531.4,1285.5 1533.4,1285.7 1535.4,1285.9 1537.4,1286.0 1539.4,1286.2 1541.4,1286.4 1543.4,1286.5 1545.4,1286.7 1547.4,1286.8 1549.4,1287.0 1551.4,1287.1 1553.4,1287.3 1555.4,1287.5 1557.4,1287.6 1559.4,1287.8 1561.4,1287.9 1563.4,1288.1 1565.4,1288.2 1567.4,1288.3 1569.4,1288.5 1571.4,1288.6 1573.4,1288.8 1575.4,1288.9 1577.3,1289.0 1579.3,1289.2 1581.3,1289.3 1583.3,1289.4 1585.3,1289.6 1587.3,1289.7 1589.3,1289.8 1591.3,1289.9 1593.3,1290.0 1595.3,1290.1 1597.3,1290.2 1599.3,1290.3 1601.3,1290.4 1603.3,1290.5 1605.3,1290.6 1607.3,1290.7 1609.3,1290.8 1611.3,1290.9 1613.3,1290.9 1615.3,1291.0 1617.3,1291.1 1619.3,1291.1 1621.3,1291.2 1623.3,1291.2 1625.3,1291.3 1627.3,1291.3 1629.3,1291.4 1631.3,1291.4 1633.3,1291.4 1635.3,1291.5 1637.3,1291.5 1639.2,1291.5 1641.2,1291.5 1643.2,1291.5 1645.2,1291.5 1647.2,1291.5 1649.2,1291.5 1651.2,1291.5 1653.2,1291.5 1655.2,1291.5 1657.2,1291.4 1659.2,1291.4 1661.2,1291.4 1663.2,1291.3 1665.2,1291.3 1667.2,1291.2 1669.2,1291.2 1671.2,1291.1 1673.2,1291.1 1675.2,1291.0 1677.2,1290.9 1679.2,1290.9 1681.2,1290.8 1683.2,1290.7 1685.1,1290.6 1687.1,1290.5 1689.1,1290.4 1691.1,1290.3 1693.1,1290.2 1695.1,1290.1 1697.1,1289.9 1699.1,1289.8 1701.1,1289.7 1703.1,1289.5 1705.1,1289.4 1707.0,1289.3 1709.0,1289.1 1711.0,1288.9 1713.0,1288.8 1715.0,1288.6 1717.0,1288.4 1719.0,1288.3 1721.0,1288.1 1722.9,1287.9 1724.9,1287.7 1726.9,1287.5 1728.9,1287.3 1730.9,1287.1 1732.9,1286.9 1734.9,1286.7 1736.8,1286.4 1738.8,1286.2 1740.8,1286.0 1742.8,1285.7 1744.8,1285.5 1746.7,1285.2 1748.7,1285.0 1750.7,1284.7 1752.7,1284.5 1754.7,1284.2 1756.6,1283.9 1758.6,1283.6 1760.6,1283.3 1762.6,1283.0 1764.5,1282.7 1766.5,1282.4 1768.5,1282.1 1770.4,1281.8 1772.4,1281.5 1774.4,1281.2 1776.4,1280.8 1778.3,1280.5 1780.3,1280.1 1782.3,1279.8 1784.2,1279.4 1786.2,1279.1 1788.2,1278.7 1790.1,1278.3 1792.1,1278.0 1794.1,1277.6 1796.0,1277.2 1798.0,1276.8 1799.9,1276.4 1801.9,1276.0 1803.9,1275.6 1805.8,1275.1 1807.8,1274.7 1809.7,1274.3 1811.7,1273.8 1813.6,1273.4 1815.6,1273.0 1817.5,1272.5 1819.5,1272.0 1821.4,1271.6 1823.4,1271.1 1825.3,1270.6 1827.3,1270.1 1829.2,1269.6 1831.2,1269.1 1833.1,1268.6 1835.1,1268.1 1837.0,1267.6 1838.9,1267.1 1840.9,1266.6 1842.8,1266.0 1844.8,1265.5 1846.7,1264.9 1848.6,1264.4 1850.6,1263.8 1852.5,1263.3 1854.4,1262.7 1856.4,1262.1 1858.3,1261.6 1860.2,1261.0 1862.2,1260.5 1864.1,1259.9 1866.0,1259.4 1868.0,1258.8 1869.9,1258.3 1871.8,1257.8 1873.8,1257.3 1875.7,1256.8 1877.6,1256.4 1879.6,1255.9 1881.5,1255.5 1883.5,1255.1 1885.4,1254.8 1887.4,1254.4 1889.3,1254.1 1891.3,1253.8 1893.2,1253.6 1895.2,1253.3 1897.2,1253.2 1899.1,1253.0 1901.1,1252.9 1903.1,1252.8 1905.1,1252.8 1907.0,1252.8 1909.0,1252.8 1911.0,1252.9 1913.0,1253.0 1914.9,1253.2 1916.9,1253.4 1918.9,1253.6 1920.8,1253.9 1922.8,1254.2 1924.7,1254.5 1926.6,1254.9 1928.6,1255.3 1930.5,1255.8 1932.4,1256.2 1934.3,1256.8 1936.2,1257.3 1938.1,1257.9 1940.0,1258.5 1941.8,1259.1 1943.7,1259.8 1945.6,1260.5 1947.4,1261.2 1949.3,1261.9 1951.2,1262.7 1953.0,1263.4 1954.8,1264.2 1956.7,1265.0 1958.5,1265.9 1960.4,1266.7 1962.2,1267.6 1964.0,1268.4 1965.8,1269.3 1967.7,1270.2 1969.5,1271.1 1971.3,1272.0 1973.1,1272.9 1974.9,1273.8 1976.7,1274.8 1978.5,1275.7 1980.4,1276.6 1982.2,1277.6 1984.0,1278.5 1985.8,1279.4 1987.6,1280.4 1989.4,1281.3 1991.2,1282.2 1993.0,1283.1 1994.8,1284.0 1996.7,1284.9 1998.5,1285.8 2000.3,1286.7 2002.1,1287.6 2003.9,1288.4 2005.8,1289.3 2007.6,1290.1 2009.4,1290.9 2011.2,1291.8 2013.1,1292.6 2014.9,1293.3 2016.7,1294.1 2018.6,1294.9 2020.4,1295.6 2022.3,1296.4 2024.1,1297.1 2026.0,1297.8 2027.8,1298.5 2029.7,1299.2 2031.5,1299.9 2033.4,1300.6 2035.2,1301.3 2037.1,1301.9 2039.0,1302.6 2040.9,1303.2 2042.7,1303.8 2044.6,1304.4 2046.5,1305.0 2048.4,1305.6 2050.3,1306.2 2052.1,1306.8 2054.0,1307.4 2055.9,1307.9 2057.8,1308.5 2059.7,1309.0 2061.6,1309.5 2063.5,1310.0 2065.5,1310.5 2067.4,1311.0 2069.3,1311.5 2071.2,1312.0 2073.1,1312.4 2075.1,1312.9 2077.0,1313.3 2078.9,1313.8 2080.9,1314.2 2082.8,1314.6 2084.8,1315.0 2086.7,1315.4 2088.7,1315.8 2090.7,1316.2 2092.6,1316.6 2094.6,1316.9 2096.6,1317.3 2098.5,1317.6 2100.5,1318.0 2102.5,1318.3 2104.5,1318.6 2106.5,1318.9 2108.5,1319.2 2110.5,1319.5 2112.5,1319.8 2114.5,1320.1 2116.5,1320.4 2118.6,1320.6 2120.6,1320.9 2122.6,1321.1 2124.6,1321.4 2126.7,1321.6" stroke="#ff0000"/>
<path d="M145.0,1150.2L147.0,1150.1 149.0,1150.1 151.0,1150.0 153.0,1149.9 155.0,1149.9 157.0,1149.8 159.0,1149.8 161.0,1149.7 163.0,1149.6 165.0,1149.6 167.0,1149.5 169.0,1149.5 171.0,1149.5 173.0,1149.4 175.0,1149.4 177.0,1149.3 179.0,1149.3 181.0,1149.3 183.0,1149.2 185.0,1149.2 186.9,1149.2 188.9,1149.1 190.9,1149.1 192.9,1149.1 194.9,1149.1 196.9,1149.1 198.9,1149.0 200.9,1149.0 202.9,1149.0 204.9,1149.0 206.9,1149.0 208.9,1149.0 210.9,1148.9 212.9,1148.9 214.9,1148.9 216.9,1148.9 218.9,1148.9 220.9,1148.9 222.9,1148.9 224.9,1148.9 226.9,1148.9 228.9,1148.9 230.9,1148.9 232.9,1148.9 234.9,1148.9 236.9,1148.9 238.9,1148.9 240.9,1148.9 242.9,1148.9 244.9,1148.9 246.9,1148.9 248.9,1148.9 250.9,1149.0 252.9,1149.0 254.9,1149.0 256.9,1149.0 258.9,1149.0 260.9,1149.0 262.9,1149.0 264.9,1149.1 266.9,1149.1 268.9,1149.1 270.9,1149.1 272.9,1149.1 274.9,1149.1 276.9,1149.2 278.9,1149.2 280.9,1149.2 282.9,1149.2 284.9,1149.2 286.9,1149.3 288.9,1149.3 290.9,1149.3 292.9,1149.3 294.9,1149.3 296.9,1149.4 298.9,1149.4 300.9,1149.4 302.9,1149.4 304.9,1149.4 306.9,1149.5 308.9,1149.5 310.9,1149.5 312.9,1149.5 314.9,1149.6 316.9,1149.6 318.9,1149.6 320.9,1149.6 322.9,1149.6 324.9,1149.7 326.9,1149.7 328.9,1149.7 330.9,1149.7 332.9,1149.7 334.9,1149.8 336.9,1149.8 338.9,1149.8 340.9,1149.8 342.9,1149.8 344.9,1149.9 346.9,1149.9 348.9,1149.9 350.9,1149.9 352.9,1149.9 354.9,1149.9 356.9,1150.0 358.9,1150.0 360.9,1150.0 362.9,1150.0 364.9,1150.0 366.9,1150.0 368.9,1150.0 370.9,1150.0 372.9,1150.1 374.9,1150.1 376.9,1150.1 378.9,1150.1 380.9,1150.1 382.9,1150.1 384.9,1150.1 386.9,1150.1 388.9,1150.1 390.9,1150.1 392.9,1150.1 394.9,1150.1 396.9,1150.1 398.9,1150.1 400.9,1150.1 402.9,1150.1 404.9,1150.1 406.9,1150.1 408.9,1150.0 410.9,1150.0 412.9,1150.0 414.9,1150.0 416.9,1150.0 418.9,1150.0 420.9,1150.0 422.9,1149.9 424.9,1149.9 426.9,1149.9 428.9,1149.9 430.9,1149.8 432.9,1149.8 434.9,1149.8 436.9,1149.8 438.9,1149.7 440.9,1149.7 442.9,1149.6 444.9,1149.6 446.9,1149.6 448.9,1149.5 450.9,1149.5 452.9,1149.4 454.9,1149.4 456.9,1149.3 458.9,1149.3 460.9,1149.2 462.9,1149.2 464.9,1149.1 466.9,1149.1 468.9,1149.0 470.9,1148.9 472.9,1148.9 474.9,1148.8 476.9,1148.7 478.9,1148.7 480.9,1148.6 482.9,1148.5 484.9,1148.4 486.8,1148.3 488.8,1148.2 490.8,1148.2 492.8,1148.1 494.8,1148.0 496.8,1147.9 498.8,1147.8 500.8,1147.7 502.8,1147.6 504.8,1147.5 506.8,1147.4 508.8,1147.3 510.8,1147.1 512.8,1147.0 514.8,1146.9 516.8,1146.8 518.8,1146.7 520.8,1146.5 522.8,1146.4 524.8,1146.3 526.8,1146.1 528.8,1146.0 530.8,1145.9 532.7,1145.7 534.7,1145.6 536.7,1145.4 538.7,1145.3 540.7,1145.1 542.7,1145.0 544.7,1144.8 546.7,1144.6 548.7,1144.5 550.7,1144.3 552.7,1144.1 554.7,1143.9 556.7,1143.7 558.7,1143.6 560.7,1143.4 562.6,1143.2 564.6,1143.0 566.6,1142.8 568.6,1142.6 570.6,1142.4 572.6,1142.2 574.6,1141.9 576.6,1141.7 578.6,1141.5 580.6,1141.3 582.6,1141.1 584.6,1140.8 586.5,1140.6 588.5,1140.4 590.5,1140.1 592.5,1139.9 594.5,1139.6 596.5,1139.4 598.5,1139.1 600.5,1138.8 602.5,1138.6 604.4,1138.3 606.4,1138.0 608.4,1137.7 610.4,1137.4 612.3,1137.0 614.2,1136.6 616.1,1136.2 618.0,1135.7 619.9,1135.2 621.7,1134.6 623.6,1133.9 625.3,1133.2 627.1,1132.5 628.8,1131.6 630.5,1130.7 632.1,1129.7 633.7,1128.6 635.2,1127.5 636.7,1126.2 638.2,1124.8 639.6,1123.4 640.9,1121.9 642.2,1120.3 643.5,1118.6 644.7,1116.9 645.9,1115.1 647.1,1113.4 648.2,1111.6 649.4,1109.8 650.4,1108.0 651.5,1106.2 652.6,1104.4 653.6,1102.6 654.6,1100.8 655.6,1099.1 656.5,1097.3 657.4,1095.5 658.3,1093.7 659.1,1091.9 659.9,1090.1 660.7,1088.3 661.5,1086.4 662.2,1084.6 663.0,1082.8 663.7,1080.9 664.4,1079.1 665.2,1077.2 665.9,1075.4 666.7,1073.6 667.5,1071.7 668.2,1069.9 669.1,1068.1 669.9,1066.3 670.8,1064.5 671.7,1062.7 672.6,1061.0 673.6,1059.2 674.7,1057.5 675.7,1055.8 676.9,1054.1 678.1,1052.5 679.4,1050.8 680.7,1049.2 682.1,1047.7 683.6,1046.2 685.1,1044.7 686.6,1043.4 688.2,1042.1 689.8,1040.9 691.5,1039.9 693.2,1039.0 694.8,1038.2 696.5,1037.5 698.3,1037.1 700.0,1036.8 701.7,1036.6 703.4,1036.7 705.1,1037.0 706.8,1037.4 708.4,1038.0 710.1,1038.8 711.7,1039.7 713.4,1040.7 715.0,1041.8 716.6,1043.1 718.2,1044.4 719.8,1045.8 721.3,1047.3 722.8,1048.8 724.3,1050.3 725.8,1051.9 727.3,1053.5 728.7,1055.1 730.2,1056.6 731.6,1058.2 733.0,1059.8 734.4,1061.4 735.8,1062.9 737.2,1064.4 738.6,1065.9 740.1,1067.4 741.5,1068.8 742.9,1070.1 744.4,1071.5 745.9,1072.7 747.4,1073.9 749.0,1075.1 750.6,1076.2 752.2,1077.2 753.9,1078.1 755.6,1078.9 757.4,1079.7 759.2,1080.4 761.0,1081.0 762.9,1081.5 764.8,1082.0 766.7,1082.3 768.7,1082.6 770.6,1082.8 772.6,1083.0 774.6,1083.1 776.6,1083.1 778.6,1083.0 780.6,1082.8 782.7,1082.6 784.7,1082.4 786.7,1082.0 788.6,1081.6 790.6,1081.2 792.6,1080.7 794.5,1080.1 796.4,1079.4 798.3,1078.7 800.1,1078.0 802.0,1077.2 803.8,1076.4 805.6,1075.5 807.3,1074.5 809.1,1073.5 810.8,1072.5 812.5,1071.5 814.2,1070.4 815.9,1069.3 817.5,1068.1 819.2,1066.9 820.8,1065.7 822.4,1064.5 824.0,1063.3 825.5,1062.0 827.1,1060.7 828.6,1059.4 830.1,1058.1 831.6,1056.8 833.1,1055.4 834.6,1054.1 836.1,1052.7 837.5,1051.4 839.0,1050.0 840.4,1048.6 841.8,1047.2 843.2,1045.8 844.6,1044.3 846.0,1042.9 847.3,1041.5 848.7,1040.0 850.0,1038.5 851.3,1037.0 852.7,1035.5 853.9,1034.0 855.2,1032.5 856.5,1031.0 857.8,1029.4 859.0,1027.9 860.2,1026.3 861.5,1024.8 862.7,1023.2 863.9,1021.6 865.1,1020.0 866.2,1018.4 867.4,1016.8 868.6,1015.1 869.7,1013.5 870.8,1011.9 871.9,1010.2 873.0,1008.5 874.1,1006.8 875.2,1005.2 876.3,1003.5 877.4,1001.8 878.4,1000.1 879.5,998.3 880.5,996.6 881.5,994.9 882.5,993.1 883.6,991.4 884.6,989.6 885.6,987.9 886.6,986.1 887.6,984.4 888.7,982.7 889.7,980.9 890.8,979.2 891.8,977.5 892.9,975.8 894.0,974.2 895.2,972.5 896.3,970.9 897.5,969.3 898.7,967.7 900.0,966.1 901.3,964.6 902.6,963.1 903.9,961.7 905.3,960.2 906.8,958.9 908.3,957.5 909.8,956.2 911.4,954.9 913.1,953.7 914.8,952.6 916.5,951.5 918.2,950.4 920.0,949.5 921.8,948.6 923.6,947.8 925.5,947.1 927.4,946.4 929.2,945.9 931.1,945.5 933.0,945.1 934.9,944.9 936.8,944.8 938.6,944.8 940.5,944.9 942.4,945.2 944.2,945.5 946.1,945.9 947.9,946.4 949.7,947.0 951.6,947.7 953.4,948.4 955.2,949.3 957.0,950.1 958.8,951.1 960.6,952.1 962.4,953.1 964.2,954.2 965.9,955.3 967.7,956.4 969.5,957.6 971.2,958.8 973.0,960.0 974.7,961.2 976.4,962.4 978.1,963.6 979.8,964.8 981.5,966.0 983.2,967.2 984.9,968.3 986.6,969.5 988.2,970.6 989.9,971.6 991.5,972.7 993.2,973.6 994.8,974.6 996.5,975.5 998.2,976.4 999.9,977.3 1001.6,978.1 1003.4,978.9 1005.1,979.7 1006.9,980.4 1008.8,981.1 1010.6,981.8 1012.5,982.4 1014.4,983.1 1016.3,983.7 1018.2,984.3 1020.1,984.9 1022.1,985.5 1024.0,986.1 1026.0,986.7 1027.9,987.3 1029.9,987.9 1031.8,988.6 1033.7,989.2 1035.6,989.9 1037.5,990.6 1039.4,991.3 1041.3,992.0 1043.1,992.8 1044.9,993.6 1046.8,994.4 1048.6,995.2 1050.4,996.1 1052.1,996.9 1053.9,997.8 1055.7,998.7 1057.4,999.7 1059.2,1000.6 1060.9,1001.6 1062.6,1002.6 1064.3,1003.6 1066.0,1004.7 1067.7,1005.7 1069.3,1006.8 1071.0,1007.9 1072.7,1009.0 1074.3,1010.2 1076.0,1011.3 1077.6,1012.5 1079.2,1013.7 1080.9,1014.8 1082.5,1016.0 1084.1,1017.2 1085.8,1018.4 1087.4,1019.5 1089.1,1020.7 1090.8,1021.8 1092.5,1022.9 1094.2,1023.9 1095.9,1025.0 1097.7,1026.0 1099.4,1026.9 1101.2,1027.8 1103.0,1028.7 1104.8,1029.6 1106.7,1030.4 1108.5,1031.2 1110.4,1031.9 1112.2,1032.6 1114.1,1033.2 1116.0,1033.8 1117.9,1034.3 1119.8,1034.8 1121.7,1035.3 1123.7,1035.7 1125.6,1036.0 1127.5,1036.3 1129.5,1036.6 1131.5,1036.8 1133.4,1036.9 1135.4,1037.0 1137.4,1037.0 1139.4,1037.0 1141.4,1036.9 1143.4,1036.8 1145.4,1036.7 1147.4,1036.5 1149.4,1036.3 1151.4,1036.1 1153.4,1035.9 1155.4,1035.6 1157.4,1035.4 1159.4,1035.1 1161.4,1034.8 1163.5,1034.6 1165.5,1034.3 1167.5,1034.0 1169.5,1033.8 1171.5,1033.5 1173.5,1033.3 1175.5,1033.1 1177.5,1032.9 1179.5,1032.7 1181.5,1032.5 1183.5,1032.3 1185.5,1032.1 1187.4,1032.0 1189.4,1031.8 1191.4,1031.7 1193.4,1031.6 1195.4,1031.5 1197.4,1031.3 1199.4,1031.2 1201.3,1031.1 1203.3,1031.1 1205.3,1031.0 1207.3,1030.9 1209.3,1030.8 1211.3,1030.8 1213.2,1030.7 1215.2,1030.6 1217.2,1030.6 1219.2,1030.5 1221.2,1030.5 1223.2,1030.5 1225.2,1030.4 1227.2,1030.4 1229.2,1030.4 1231.2,1030.3 1233.2,1030.3 1235.2,1030.3 1237.2,1030.2 1239.2,1030.2 1241.2,1030.2 1243.2,1030.2 1245.2,1030.2 1247.2,1030.2 1249.2,1030.2 1251.2,1030.2 1253.2,1030.2 1255.2,1030.3 1257.2,1030.3 1259.2,1030.3 1261.3,1030.4 1263.3,1030.4 1265.3,1030.5 1267.3,1030.6 1269.3,1030.7 1271.3,1030.8 1273.3,1030.9 1275.3,1031.0 1277.3,1031.1 1279.3,1031.2 1281.3,1031.4 1283.3,1031.5 1285.3,1031.7 1287.3,1031.9 1289.3,1032.1 1291.3,1032.3 1293.2,1032.5 1295.2,1032.8 1297.2,1033.0 1299.2,1033.3 1301.1,1033.6 1303.1,1033.8 1305.1,1034.2 1307.0,1034.5 1309.0,1034.8 1311.0,1035.2 1312.9,1035.6 1314.9,1036.0 1316.8,1036.4 1318.7,1036.8 1320.7,1037.3 1322.6,1037.7 1324.5,1038.2 1326.5,1038.7 1328.4,1039.2 1330.3,1039.8 1332.2,1040.3 1334.1,1040.8 1336.1,1041.4 1338.0,1042.0 1339.9,1042.6 1341.8,1043.2 1343.7,1043.8 1345.6,1044.4 1347.5,1045.0 1349.4,1045.6 1351.3,1046.3 1353.1,1046.9 1355.0,1047.6 1356.9,1048.2 1358.8,1048.9 1360.7,1049.6 1362.6,1050.2 1364.5,1050.9 1366.3,1051.6 1368.2,1052.3 1370.1,1053.0 1372.0,1053.7 1373.9,1054.4 1375.7,1055.1 1377.6,1055.8 1379.5,1056.5 1381.4,1057.2 1383.3,1057.9 1385.1,1058.6 1387.0,1059.2 1388.9,1059.9 1390.8,1060.6 1392.7,1061.3 1394.5,1062.0 1396.4,1062.7 1398.3,1063.4 1400.2,1064.1 1402.1,1064.8 1404.0,1065.4 1405.8,1066.1 1407.7,1066.8 1409.6,1067.5 1411.5,1068.2 1413.4,1068.8 1415.3,1069.5 1417.1,1070.2 1419.0,1070.9 1420.9,1071.5 1422.8,1072.2 1424.7,1072.8 1426.6,1073.5 1428.5,1074.2 1430.4,1074.8 1432.3,1075.5 1434.1,1076.1 1436.0,1076.8 1437.9,1077.4 1439.8,1078.0 1441.7,1078.7 1443.6,1079.3 1445.5,1079.9 1447.4,1080.5 1449.3,1081.2 1451.2,1081.8 1453.1,1082.4 1455.0,1083.0 1456.9,1083.6 1458.8,1084.2 1460.7,1084.8 1462.6,1085.4 1464.5,1086.0 1466.4,1086.5 1468.4,1087.1 1470.3,1087.7 1472.2,1088.3 1474.1,1088.8 1476.0,1089.4 1477.9,1089.9 1479.8,1090.5 1481.8,1091.0 1483.7,1091.5 1485.6,1092.1 1487.5,1092.6 1489.5,1093.1 1491.4,1093.6 1493.3,1094.1 1495.3,1094.6 1497.2,1095.1 1499.1,1095.6 1501.1,1096.0 1503.0,1096.5 1504.9,1097.0 1506.9,1097.4 1508.8,1097.9 1510.8,1098.3 1512.7,1098.8 1514.7,1099.2 1516.6,1099.6 1518.6,1100.0 1520.5,1100.4 1522.5,1100.8 1524.4,1101.2 1526.4,1101.6 1528.3,1102.0 1530.3,1102.4 1532.3,1102.7 1534.2,1103.1 1536.2,1103.5 1538.2,1103.8 1540.1,1104.2 1542.1,1104.5 1544.1,1104.8 1546.1,1105.1 1548.0,1105.4 1550.0,1105.8 1552.0,1106.1 1554.0,1106.4 1555.9,1106.6 1557.9,1106.9 1559.9,1107.2 1561.9,1107.5 1563.9,1107.7 1565.8,1108.0 1567.8,1108.2 1569.8,1108.5 1571.8,1108.7 1573.8,1109.0 1575.8,1109.2 1577.8,1109.4 1579.8,1109.6 1581.8,1109.8 1583.8,1110.0 1585.7,1110.2 1587.7,1110.4 1589.7,1110.6 1591.7,1110.8 1593.7,1110.9 1595.7,1111.1 1597.7,1111.3 1599.7,1111.4 1601.7,1111.6 1603.7,1111.7 1605.7,1111.8 1607.7,1112.0 1609.7,1112.1 1611.7,1112.2 1613.7,1112.3 1615.7,1112.4 1617.7,1112.5 1619.7,1112.6 1621.7,1112.7 1623.7,1112.8 1625.7,1112.9 1627.7,1113.0 1629.7,1113.0 1631.7,1113.1 1633.7,1113.2 1635.7,1113.2 1637.7,1113.3 1639.7,1113.3 1641.7,1113.3 1643.7,1113.4 1645.7,1113.4 1647.7,1113.4 1649.7,1113.4 1651.7,1113.5 1653.7,1113.5 1655.8,1113.5 1657.8,1113.5 1659.8,1113.5 1661.8,1113.4 1663.7,1113.4 1665.7,1113.4 1667.7,1113.4 1669.7,1113.3 1671.7,1113.3 1673.7,1113.2 1675.7,1113.2 1677.7,1113.1 1679.7,1113.1 1681.7,1113.0 1683.7,1113.0 1685.7,1112.9 1687.7,1112.8 1689.7,1112.7 1691.7,1112.7 1693.7,1112.6 1695.7,1112.5 1697.7,1112.4 1699.7,1112.3 1701.7,1112.2 1703.7,1112.1 1705.7,1112.0 1707.6,1111.9 1709.6,1111.7 1711.6,1111.6 1713.6,1111.5 1715.6,1111.4 1717.6,1111.2 1719.6,1111.1 1721.6,1111.0 1723.6,1110.8 1725.6,1110.7 1727.6,1110.5 1729.5,1110.4 1731.5,1110.2 1733.5,1110.1 1735.5,1109.9 1737.5,1109.8 1739.5,1109.6 1741.5,1109.4 1743.5,1109.3 1745.5,1109.1 1747.4,1108.9 1749.4,1108.7 1751.4,1108.6 1753.4,1108.4 1755.4,1108.2 1757.4,1108.0 1759.4,1107.8 1761.4,1107.6 1763.3,1107.4 1765.3,1107.2 1767.3,1107.1 1769.3,1106.9 1771.3,1106.7 1773.3,1106.5 1775.3,1106.3 1777.3,1106.1 1779.2,1105.9 1781.2,1105.6 1783.2,1105.4 1785.2,1105.2 1787.2,1105.0 1789.2,1104.8 1791.2,1104.6 1793.2,1104.4 1795.1,1104.2 1797.1,1104.0 1799.1,1103.7 1801.1,1103.5 1803.1,1103.3 1805.1,1103.1 1807.1,1102.9 1809.1,1102.7 1811.0,1102.4 1813.0,1102.2 1815.0,1102.0 1817.0,1101.8 1819.0,1101.6 1821.0,1101.3 1823.0,1101.1 1825.0,1100.9 1827.0,1100.7 1828.9,1100.5 1830.9,1100.2 1832.9,1100.0 1834.9,1099.8 1836.9,1099.6 1838.9,1099.4 1840.9,1099.2 1842.9,1098.9 1844.9,1098.7 1846.8,1098.5 1848.8,1098.3 1850.8,1098.1 1852.8,1097.9 1854.8,1097.6 1856.8,1097.4 1858.8,1097.2 1860.8,1097.0 1862.8,1096.8 1864.8,1096.6 1866.8,1096.4 1868.8,1096.2 1870.7,1096.0 1872.7,1095.8 1874.7,1095.6 1876.7,1095.4 1878.7,1095.2 1880.7,1095.0 1882.7,1094.8 1884.7,1094.6 1886.7,1094.4 1888.7,1094.3 1890.7,1094.1 1892.7,1094.0 1894.7,1093.8 1896.7,1093.7 1898.7,1093.6 1900.7,1093.5 1902.7,1093.5 1904.6,1093.4 1906.6,1093.4 1908.6,1093.4 1910.6,1093.5 1912.6,1093.5 1914.6,1093.6 1916.6,1093.7 1918.5,1093.9 1920.5,1094.1 1922.5,1094.3 1924.5,1094.5 1926.4,1094.8 1928.4,1095.1 1930.4,1095.5 1932.4,1095.8 1934.3,1096.2 1936.3,1096.6 1938.2,1097.0 1940.2,1097.5 1942.2,1097.9 1944.1,1098.4 1946.1,1098.9 1948.0,1099.4 1950.0,1099.9 1951.9,1100.4 1953.8,1101.0 1955.8,1101.5 1957.7,1102.0 1959.6,1102.6 1961.6,1103.2 1963.5,1103.7 1965.4,1104.3 1967.3,1104.8 1969.3,1105.4 1971.2,1106.0 1973.1,1106.6 1975.0,1107.2 1976.9,1107.8 1978.8,1108.3 1980.7,1108.9 1982.7,1109.5 1984.6,1110.1 1986.5,1110.7 1988.4,1111.3 1990.3,1111.9 1992.2,1112.5 1994.1,1113.1 1996.0,1113.7 1997.9,1114.3 1999.8,1114.8 2001.7,1115.4 2003.6,1116.0 2005.5,1116.6 2007.5,1117.2 2009.4,1117.7 2011.3,1118.3 2013.2,1118.8 2015.1,1119.4 2017.0,1120.0 2019.0,1120.5 2020.9,1121.0 2022.8,1121.6 2024.7,1122.1 2026.7,1122.6 2028.6,1123.2 2030.5,1123.7 2032.4,1124.2 2034.4,1124.7 2036.3,1125.2 2038.2,1125.7 2040.2,1126.2 2042.1,1126.7 2044.1,1127.2 2046.0,1127.6 2047.9,1128.1 2049.9,1128.6 2051.8,1129.0 2053.8,1129.5 2055.7,1130.0 2057.7,1130.4 2059.6,1130.9 2061.6,1131.3 2063.5,1131.7 2065.5,1132.2 2067.4,1132.6 2069.4,1133.0 2071.3,1133.5 2073.3,1133.9 2075.2,1134.3 2077.2,1134.7 2079.2,1135.1 2081.1,1135.5 2083.1,1135.9 2085.0,1136.3 2087.0,1136.7 2089.0,1137.1 2090.9,1137.4 2092.9,1137.8 2094.8,1138.2 2096.8,1138.6 2098.8,1138.9 2100.7,1139.3 2102.7,1139.6 2104.7,1140.0 2106.6,1140.3 2108.6,1140.7 2110.6,1141.0 2112.6,1141.4 2114.5,1141.7 2116.5,1142.0 2118.5,1142.3 2120.4,1142.7 2122.4,1143.0 2124.4,1143.3 2126.3,1143.6" stroke="#0000ff"/>
<path d="M145.0,945.9L147.0,945.9 149.0,945.9 151.0,946.0 153.0,946.0 155.0,946.0 157.0,946.0 159.0,946.0 161.0,946.0 163.0,946.0 165.0,946.0 167.0,946.0 169.0,946.0 171.0,946.1 173.0,946.1 175.0,946.1 177.0,946.1 179.0,946.1 181.0,946.1 183.0,946.1 185.0,946.1 187.0,946.1 189.0,946.1 191.0,946.1 193.0,946.1 195.0,946.1 197.0,946.1 199.0,946.1 201.0,946.1 203.0,946.1 205.0,946.1 207.0,946.1 209.0,946.1 211.0,946.1 213.0,946.1 215.0,946.1 217.0,946.1 219.0,946.1 221.0,946.1 223.0,946.1 225.0,946.1 226.9,946.1 228.9,946.1 230.9,946.1 232.9,946.1 234.9,946.1 236.9,946.1 238.9,946.1 240.9,946.1 242.9,946.1 244.9,946.1 246.9,946.1 248.9,946.1 250.9,946.1 252.9,946.1 254.9,946.1 256.9,946.1 258.9,946.1 260.9,946.0 262.9,946.0 264.9,946.0 266.9,946.0 268.9,946.0 270.9,946.0 272.9,946.0 274.9,946.0 276.9,946.0 278.9,946.0 280.9,946.0 282.9,946.0 284.9,945.9 286.9,945.9 288.9,945.9 290.9,945.9 292.9,945.9 294.9,945.9 296.9,945.9 298.9,945.9 300.9,945.9 302.9,945.8 304.9,945.8 306.9,945.8 308.9,945.8 310.9,945.8 312.9,945.8 314.9,945.8 316.9,945.7 318.9,945.7 320.9,945.7 322.9,945.7 324.9,945.7 326.9,945.7 328.9,945.7 330.9,945.6 332.9,945.6 334.9,945.6 336.9,945.6 338.9,945.6 340.9,945.6 342.9,945.6 344.9,945.5 346.9,945.5 348.9,945.5 350.9,945.5 352.9,945.5 354.9,945.5 356.9,945.4 358.9,945.4 360.9,945.4 362.9,945.4 364.9,945.4 366.9,945.3 368.9,945.3 370.9,945.3 372.9,945.3 374.9,945.3 376.9,945.3 378.9,945.2 380.9,945.2 382.9,945.2 384.9,945.2 386.8,945.2 388.8,945.1 390.8,945.1 392.8,945.1 394.8,945.1 396.8,945.1 398.8,945.0 400.8,945.0 402.8,945.0 404.8,945.0 406.8,945.0 408.8,944.9 410.8,944.9 412.8,944.9 414.8,944.9 416.8,944.9 418.8,944.8 420.8,944.8 422.8,944.8 424.8,944.8 426.8,944.7 428.8,944.7 430.8,944.7 432.8,944.7 434.8,944.7 436.8,944.6 438.8,944.6 440.8,944.6 442.8,944.6 444.8,944.6 446.8,944.5 448.8,944.5 450.8,944.5 452.8,944.5 454.8,944.4 456.8,944.4 458.8,944.4 460.8,944.4 462.8,944.4 464.8,944.3 466.8,944.3 468.8,944.3 470.8,944.3 472.8,944.2 474.8,944.2 476.8,944.2 478.8,944.2 480.8,944.2 482.8,944.1 484.8,944.1 486.8,944.1 488.8,944.1 490.8,944.0 492.8,944.0 494.8,944.0 496.8,944.0 498.8,944.0 500.8,943.9 502.8,943.9 504.8,943.9 506.8,943.9 508.8,943.8 510.8,943.8 512.8,943.8 514.8,943.8 516.8,943.7 518.8,943.7 520.8,943.6 522.8,943.6 524.8,943.5 526.8,943.5 528.8,943.4 530.7,943.4 532.7,943.3 534.7,943.2 536.7,943.1 538.7,943.1 540.7,943.0 542.7,942.9 544.7,942.7 546.7,942.6 548.7,942.5 550.7,942.4 552.7,942.2 554.7,942.1 556.7,941.9 558.7,941.7 560.6,941.5 562.6,941.3 564.6,941.1 566.6,940.9 568.6,940.6 570.6,940.4 572.6,940.1 574.5,939.9 576.5,939.6 578.5,939.3 580.5,938.9 582.5,938.6 584.4,938.2 586.4,937.9 588.4,937.5 590.4,937.1 592.4,936.7 594.3,936.2 596.3,935.8 598.3,935.3 600.2,934.8 602.1,934.3 604.1,933.7 606.0,933.1 607.8,932.4 609.7,931.7 611.5,930.9 613.3,930.1 615.0,929.3 616.7,928.4 618.4,927.4 620.0,926.3 621.6,925.2 623.1,924.0 624.5,922.7 625.9,921.4 627.3,919.9 628.5,918.4 629.7,916.8 630.9,915.1 632.0,913.4 633.1,911.6 634.1,909.8 635.1,907.9 636.1,906.1 637.0,904.2 637.9,902.3 638.9,900.4 639.8,898.5 640.7,896.7 641.6,894.9 642.5,893.1 643.4,891.4 644.4,889.7 645.3,888.0 646.3,886.4 647.3,884.7 648.3,883.1 649.3,881.5 650.3,879.9 651.3,878.2 652.3,876.5 653.3,874.8 654.4,873.1 655.4,871.4 656.5,869.6 657.6,867.9 658.8,866.2 659.9,864.4 661.1,862.7 662.4,861.0 663.6,859.4 665.0,857.7 666.3,856.1 667.8,854.7 669.2,853.4 670.8,852.5 672.4,852.0 674.0,852.2 675.7,852.8 677.3,853.8 678.9,855.0 680.4,856.3 681.8,857.7 683.2,859.2 684.5,860.7 685.7,862.3 686.9,864.0 688.1,865.6 689.3,867.3 690.5,869.0 691.7,870.6 693.0,872.3 694.2,873.9 695.5,875.4 696.8,877.0 698.1,878.5 699.5,880.0 700.9,881.5 702.3,882.9 703.7,884.3 705.1,885.6 706.6,886.9 708.2,888.2 709.7,889.3 711.3,890.5 712.9,891.6 714.6,892.6 716.3,893.6 718.0,894.5 719.8,895.4 721.6,896.2 723.5,896.9 725.4,897.6 727.3,898.1 729.2,898.7 731.2,899.1 733.2,899.5 735.3,899.8 737.3,900.1 739.3,900.3 741.4,900.4 743.4,900.5 745.5,900.5 747.5,900.4 749.6,900.3 751.6,900.1 753.6,899.9 755.6,899.6 757.5,899.2 759.5,898.8 761.4,898.3 763.3,897.7 765.2,897.2 767.0,896.5 768.8,895.8 770.6,895.1 772.4,894.3 774.2,893.5 776.0,892.6 777.7,891.7 779.4,890.8 781.2,889.8 782.9,888.8 784.6,887.8 786.2,886.8 787.9,885.7 789.6,884.6 791.2,883.5 792.9,882.3 794.5,881.2 796.2,880.0 797.8,878.9 799.4,877.7 801.0,876.5 802.7,875.3 804.3,874.1 805.9,872.9 807.5,871.7 809.1,870.4 810.7,869.2 812.3,868.0 813.9,866.7 815.5,865.5 817.0,864.2 818.6,862.9 820.2,861.7 821.7,860.4 823.2,859.1 824.7,857.7 826.3,856.4 827.8,855.1 829.2,853.8 830.7,852.4 832.2,851.0 833.6,849.7 835.1,848.3 836.5,846.9 837.9,845.5 839.3,844.0 840.6,842.6 842.0,841.2 843.3,839.7 844.7,838.2 846.0,836.7 847.3,835.3 848.6,833.8 849.8,832.2 851.1,830.7 852.3,829.2 853.6,827.6 854.8,826.1 856.0,824.5 857.2,823.0 858.4,821.4 859.6,819.8 860.8,818.2 861.9,816.6 863.1,815.0 864.2,813.4 865.4,811.8 866.5,810.1 867.7,808.5 868.8,806.9 869.9,805.2 871.0,803.6 872.1,801.9 873.2,800.2 874.3,798.6 875.4,796.9 876.5,795.2 877.6,793.6 878.6,791.9 879.7,790.2 880.8,788.5 881.9,786.8 883.0,785.1 884.0,783.4 885.1,781.7 886.2,780.0 887.2,778.3 888.3,776.6 889.4,774.9 890.5,773.2 891.6,771.5 892.6,769.8 893.7,768.1 894.8,766.3 895.9,764.6 897.0,762.9 898.1,761.2 899.2,759.5 900.3,757.9 901.4,756.2 902.6,754.5 903.7,752.8 904.9,751.2 906.0,749.5 907.2,747.9 908.4,746.3 909.6,744.7 910.8,743.1 912.0,741.5 913.3,739.9 914.5,738.4 915.8,736.9 917.1,735.4 918.4,733.9 919.7,732.4 921.1,731.0 922.4,729.6 923.8,728.2 925.2,726.8 926.7,725.5 928.1,724.2 929.6,722.9 931.1,721.6 932.6,720.4 934.2,719.2 935.8,718.1 937.4,716.9 939.0,715.9 940.7,714.8 942.4,713.8 944.1,712.8 945.9,711.9 947.7,711.0 949.5,710.1 951.3,709.3 953.2,708.6 955.1,707.8 957.1,707.1 959.0,706.4 961.0,705.8 963.0,705.1 964.9,704.4 966.9,703.8 968.8,703.1 970.7,702.4 972.6,701.7 974.5,700.9 976.3,700.1 978.1,699.3 979.9,698.4 981.6,697.6 983.4,696.7 985.1,695.8 986.8,695.0 988.6,694.1 990.3,693.3 992.1,692.5 993.9,691.7 995.7,691.0 997.6,690.3 999.5,689.7 1001.4,689.2 1003.4,688.7 1005.4,688.2 1007.4,687.9 1009.4,687.5 1011.5,687.3 1013.6,687.1 1015.7,687.0 1017.8,686.9 1019.8,686.9 1021.9,687.0 1024.0,687.1 1026.0,687.3 1028.1,687.5 1030.1,687.8 1032.1,688.2 1034.0,688.7 1035.9,689.2 1037.8,689.8 1039.6,690.4 1041.4,691.1 1043.2,691.8 1044.9,692.6 1046.6,693.5 1048.2,694.4 1049.9,695.4 1051.5,696.4 1053.0,697.5 1054.6,698.6 1056.1,699.8 1057.6,701.0 1059.1,702.2 1060.5,703.5 1061.9,704.8 1063.3,706.2 1064.6,707.6 1066.0,709.0 1067.3,710.5 1068.6,712.0 1069.9,713.5 1071.1,715.1 1072.4,716.7 1073.6,718.3 1074.8,719.9 1076.0,721.6 1077.2,723.2 1078.3,724.9 1079.5,726.7 1080.6,728.4 1081.8,730.1 1082.9,731.9 1084.0,733.6 1085.1,735.4 1086.2,737.2 1087.2,739.0 1088.3,740.8 1089.4,742.5 1090.4,744.3 1091.5,746.1 1092.5,747.9 1093.6,749.7 1094.6,751.5 1095.7,753.3 1096.7,755.0 1097.8,756.8 1098.8,758.5 1099.9,760.2 1101.0,761.9 1102.1,763.6 1103.2,765.2 1104.3,766.9 1105.5,768.4 1106.7,770.0 1107.9,771.5 1109.1,773.0 1110.4,774.4 1111.7,775.8 1113.0,777.2 1114.4,778.5 1115.8,779.7 1117.3,780.9 1118.8,782.0 1120.4,783.1 1122.0,784.1 1123.7,785.0 1125.4,785.9 1127.1,786.7 1128.9,787.5 1130.8,788.2 1132.7,788.8 1134.6,789.4 1136.5,790.0 1138.5,790.4 1140.4,790.8 1142.4,791.2 1144.5,791.5 1146.5,791.7 1148.5,791.9 1150.6,792.1 1152.6,792.2 1154.7,792.2 1156.8,792.2 1158.8,792.1 1160.8,792.0 1162.9,791.9 1164.9,791.7 1166.9,791.5 1168.9,791.2 1170.9,790.9 1172.9,790.5 1174.9,790.2 1176.9,789.8 1178.8,789.3 1180.8,788.9 1182.8,788.5 1184.7,788.0 1186.7,787.5 1188.6,787.0 1190.6,786.5 1192.5,786.0 1194.4,785.5 1196.4,785.0 1198.3,784.5 1200.2,784.0 1202.1,783.5 1204.0,783.1 1205.9,782.6 1207.8,782.1 1209.7,781.6 1211.6,781.2 1213.5,780.7 1215.4,780.2 1217.3,779.7 1219.2,779.2 1221.1,778.7 1223.0,778.2 1224.9,777.7 1226.8,777.2 1228.7,776.6 1230.5,776.0 1232.4,775.5 1234.3,774.9 1236.2,774.2 1238.1,773.6 1240.0,773.0 1241.8,772.3 1243.7,771.6 1245.6,770.9 1247.5,770.1 1249.4,769.4 1251.2,768.6 1253.1,767.8 1255.0,767.0 1256.9,766.2 1258.8,765.4 1260.6,764.6 1262.5,763.8 1264.4,763.0 1266.3,762.2 1268.2,761.4 1270.1,760.6 1272.0,759.8 1273.8,759.0 1275.7,758.2 1277.6,757.4 1279.5,756.6 1281.4,755.9 1283.3,755.2 1285.2,754.4 1287.1,753.7 1289.0,753.1 1290.9,752.4 1292.8,751.8 1294.7,751.2 1296.6,750.6 1298.6,750.0 1300.5,749.5 1302.4,749.0 1304.3,748.6 1306.2,748.2 1308.2,747.8 1310.1,747.5 1312.0,747.2 1314.0,746.9 1315.9,746.7 1317.8,746.6 1319.8,746.5 1321.7,746.4 1323.7,746.4 1325.6,746.4 1327.6,746.5 1329.5,746.6 1331.5,746.7 1333.4,746.9 1335.4,747.2 1337.3,747.5 1339.2,747.8 1341.2,748.2 1343.1,748.6 1345.1,749.0 1347.0,749.5 1348.9,750.0 1350.8,750.5 1352.7,751.1 1354.6,751.7 1356.6,752.4 1358.4,753.1 1360.3,753.8 1362.2,754.5 1364.1,755.3 1365.9,756.1 1367.8,756.9 1369.6,757.8 1371.5,758.7 1373.3,759.6 1375.1,760.6 1376.9,761.5 1378.6,762.5 1380.4,763.5 1382.2,764.6 1383.9,765.6 1385.6,766.7 1387.3,767.8 1389.0,768.9 1390.7,770.1 1392.4,771.2 1394.0,772.4 1395.6,773.6 1397.2,774.8 1398.8,776.1 1400.4,777.3 1402.0,778.5 1403.5,779.8 1405.0,781.1 1406.5,782.4 1408.0,783.7 1409.5,785.0 1411.0,786.4 1412.4,787.7 1413.9,789.1 1415.3,790.4 1416.8,791.8 1418.2,793.2 1419.6,794.6 1421.0,796.0 1422.4,797.4 1423.8,798.8 1425.2,800.2 1426.6,801.6 1427.9,803.0 1429.3,804.5 1430.7,805.9 1432.0,807.4 1433.4,808.8 1434.8,810.2 1436.1,811.7 1437.5,813.1 1438.8,814.6 1440.2,816.0 1441.6,817.5 1442.9,818.9 1444.3,820.4 1445.7,821.8 1447.0,823.3 1448.4,824.7 1449.8,826.2 1451.2,827.6 1452.6,829.0 1454.0,830.5 1455.4,831.9 1456.8,833.3 1458.3,834.7 1459.7,836.1 1461.1,837.5 1462.6,838.9 1464.1,840.3 1465.5,841.6 1467.0,843.0 1468.5,844.4 1470.0,845.7 1471.5,847.1 1473.0,848.4 1474.5,849.7 1476.0,851.1 1477.5,852.4 1479.0,853.7 1480.6,855.0 1482.1,856.3 1483.7,857.5 1485.3,858.8 1486.8,860.0 1488.4,861.3 1490.0,862.5 1491.6,863.7 1493.2,864.9 1494.8,866.1 1496.4,867.3 1498.1,868.4 1499.7,869.6 1501.3,870.7 1503.0,871.8 1504.7,872.9 1506.3,874.0 1508.0,875.1 1509.7,876.2 1511.4,877.2 1513.1,878.3 1514.8,879.3 1516.5,880.3 1518.3,881.3 1520.0,882.2 1521.8,883.2 1523.5,884.1 1525.3,885.0 1527.1,885.9 1528.8,886.8 1530.6,887.7 1532.4,888.5 1534.3,889.3 1536.1,890.1 1537.9,890.9 1539.7,891.7 1541.6,892.4 1543.4,893.2 1545.3,893.9 1547.2,894.6 1549.0,895.3 1550.9,895.9 1552.8,896.6 1554.7,897.2 1556.6,897.8 1558.5,898.4 1560.4,899.0 1562.3,899.6 1564.2,900.2 1566.2,900.7 1568.1,901.2 1570.0,901.7 1572.0,902.2 1573.9,902.7 1575.9,903.2 1577.8,903.6 1579.8,904.0 1581.7,904.5 1583.7,904.9 1585.7,905.3 1587.6,905.6 1589.6,906.0 1591.6,906.4 1593.6,906.7 1595.5,907.0 1597.5,907.3 1599.5,907.6 1601.5,907.9 1603.5,908.2 1605.5,908.5 1607.4,908.7 1609.4,909.0 1611.4,909.2 1613.4,909.4 1615.4,909.6 1617.4,909.8 1619.4,910.0 1621.4,910.2 1623.3,910.4 1625.3,910.5 1627.3,910.7 1629.3,910.8 1631.3,910.9 1633.3,911.0 1635.3,911.1 1637.3,911.2 1639.3,911.3 1641.3,911.4 1643.3,911.5 1645.2,911.5 1647.2,911.6 1649.2,911.6 1651.2,911.7 1653.2,911.7 1655.2,911.7 1657.2,911.7 1659.2,911.7 1661.2,911.7 1663.2,911.7 1665.2,911.7 1667.2,911.7 1669.2,911.6 1671.2,911.6 1673.2,911.6 1675.2,911.5 1677.2,911.5 1679.2,911.4 1681.2,911.3 1683.2,911.3 1685.2,911.2 1687.2,911.1 1689.2,911.0 1691.2,910.9 1693.2,910.8 1695.2,910.7 1697.2,910.6 1699.2,910.5 1701.1,910.4 1703.1,910.3 1705.1,910.1 1707.1,910.0 1709.1,909.9 1711.1,909.7 1713.1,909.6 1715.1,909.5 1717.1,909.3 1719.1,909.2 1721.1,909.0 1723.1,908.9 1725.1,908.7 1727.1,908.6 1729.1,908.4 1731.1,908.3 1733.1,908.1 1735.1,908.0 1737.1,907.8 1739.1,907.6 1741.1,907.5 1743.1,907.3 1745.1,907.2 1747.1,907.0 1749.1,906.8 1751.1,906.7 1753.1,906.5 1755.1,906.3 1757.1,906.2 1759.1,906.0 1761.1,905.8 1763.1,905.6 1765.1,905.5 1767.1,905.3 1769.0,905.1 1771.0,904.9 1773.0,904.7 1775.0,904.6 1777.0,904.4 1779.0,904.2 1781.0,904.0 1783.0,903.8 1785.0,903.6 1787.0,903.5 1789.0,903.3 1791.0,903.1 1792.9,902.9 1794.9,902.7 1796.9,902.5 1798.9,902.3 1800.9,902.1 1802.9,901.9 1804.9,901.7 1806.9,901.5 1808.8,901.3 1810.8,901.0 1812.8,900.8 1814.8,900.6 1816.8,900.4 1818.8,900.2 1820.7,900.0 1822.7,899.8 1824.7,899.5 1826.7,899.3 1828.7,899.1 1830.7,898.9 1832.6,898.6 1834.6,898.4 1836.6,898.2 1838.6,897.9 1840.5,897.7 1842.5,897.4 1844.5,897.2 1846.5,897.0 1848.4,896.7 1850.4,896.5 1852.4,896.2 1854.4,895.9 1856.3,895.7 1858.3,895.4 1860.3,895.2 1862.2,894.9 1864.2,894.6 1866.2,894.4 1868.1,894.1 1870.1,893.8 1872.1,893.5 1874.0,893.3 1876.0,893.0 1878.0,892.7 1880.0,892.4 1881.9,892.1 1883.9,891.8 1885.9,891.5 1887.9,891.1 1889.9,890.8 1891.8,890.5 1893.8,890.2 1895.8,889.8 1897.8,889.5 1899.8,889.1 1901.8,888.8 1903.8,888.4 1905.8,888.1 1907.8,887.7 1909.8,887.4 1911.8,887.1 1913.8,886.7 1915.8,886.4 1917.8,886.1 1919.8,885.9 1921.8,885.6 1923.9,885.4 1925.9,885.2 1927.8,885.0 1929.8,884.9 1931.8,884.8 1933.8,884.7 1935.8,884.7 1937.8,884.7 1939.8,884.8 1941.7,884.9 1943.7,885.0 1945.7,885.2 1947.6,885.5 1949.6,885.7 1951.5,886.0 1953.5,886.4 1955.4,886.7 1957.3,887.1 1959.3,887.6 1961.2,888.0 1963.1,888.5 1965.0,889.0 1966.9,889.6 1968.8,890.2 1970.7,890.7 1972.6,891.4 1974.5,892.0 1976.4,892.7 1978.3,893.3 1980.2,894.0 1982.1,894.7 1984.0,895.4 1985.8,896.2 1987.7,896.9 1989.6,897.7 1991.4,898.4 1993.3,899.2 1995.1,900.0 1997.0,900.8 1998.8,901.6 2000.7,902.4 2002.5,903.2 2004.4,904.0 2006.2,904.8 2008.0,905.6 2009.9,906.4 2011.7,907.2 2013.5,908.0 2015.4,908.8 2017.2,909.6 2019.0,910.4 2020.9,911.2 2022.7,912.0 2024.6,912.7 2026.4,913.5 2028.2,914.3 2030.1,915.0 2031.9,915.8 2033.8,916.5 2035.6,917.2 2037.5,917.9 2039.3,918.6 2041.2,919.3 2043.1,920.0 2045.0,920.6 2046.8,921.3 2048.7,921.9 2050.6,922.5 2052.5,923.1 2054.4,923.6 2056.3,924.2 2058.2,924.7 2060.2,925.2 2062.1,925.7 2064.0,926.1 2066.0,926.6 2067.9,927.0 2069.9,927.3 2071.9,927.7 2073.8,928.0 2075.8,928.3 2077.8,928.6 2079.8,928.9 2081.8,929.2 2083.8,929.4 2085.8,929.7 2087.8,929.9 2089.9,930.2 2091.9,930.4 2093.9,930.6 2095.9,930.9 2097.9,931.1 2099.9,931.4 2101.9,931.7 2103.9,932.0 2105.9,932.3 2107.9,932.6 2109.8,932.9 2111.8,933.3 2113.8,933.6 2115.7,934.1 2117.6,934.5 2119.6,935.0 2121.5,935.5 2123.4,936.0 2125.3,936.6 2127.1,937.2" stroke="#ff00ff"/>
<path d="M145.0,755.5L147.0,755.4 149.0,755.3 151.0,755.2 153.0,755.1 155.0,755.0 157.0,754.9 159.0,754.8 161.0,754.7 163.0,754.6 165.0,754.5 167.0,754.4 169.0,754.3 171.0,754.2 173.0,754.2 175.0,754.1 177.0,754.0 179.0,753.9 181.0,753.8 183.0,753.8 185.0,753.7 187.0,753.6 189.0,753.5 191.0,753.5 193.0,753.4 195.0,753.3 197.0,753.3 199.0,753.2 201.0,753.2 203.0,753.1 205.0,753.1 207.0,753.0 209.0,752.9 211.0,752.9 213.0,752.8 215.0,752.8 217.0,752.8 219.0,752.7 221.0,752.7 223.0,752.6 225.0,752.6 227.0,752.5 229.0,752.5 231.0,752.5 233.0,752.4 235.0,752.4 237.0,752.4 239.0,752.3 241.0,752.3 243.0,752.3 245.0,752.2 247.0,752.2 249.0,752.2 251.0,752.2 253.0,752.2 255.0,752.1 257.0,752.1 259.0,752.1 261.0,752.1 263.0,752.1 265.0,752.0 267.0,752.0 269.0,752.0 271.0,752.0 273.0,752.0 275.0,752.0 277.0,752.0 279.0,751.9 281.0,751.9 283.0,751.9 284.9,751.9 286.9,751.9 288.9,751.9 290.9,751.9 292.9,751.9 294.9,751.9 296.9,751.9 298.9,751.9 300.9,751.9 302.9,751.9 304.9,751.9 306.9,751.9 308.9,751.9 310.9,751.9 312.9,751.9 314.9,751.9 316.9,751.9 318.9,751.9 320.9,751.9 322.9,751.9 324.9,751.9 326.9,751.9 328.9,751.9 330.9,751.9 332.9,751.9 334.9,751.9 336.9,751.9 338.9,751.9 340.9,751.9 342.9,751.9 344.9,751.9 346.9,751.9 348.9,751.9 350.9,751.9 352.9,751.9 354.9,751.9 356.9,751.9 358.9,751.9 360.9,751.9 362.9,751.9 364.9,751.9 366.9,751.9 368.9,751.9 370.9,751.9 372.9,751.9 374.9,752.0 376.9,752.0 378.9,752.0 380.9,752.0 382.9,752.0 384.9,752.0 386.9,752.0 388.9,752.0 390.9,752.0 392.9,752.0 394.9,751.9 396.9,751.9 398.9,751.9 400.9,751.9 402.9,751.9 404.9,751.9 406.9,751.9 408.9,751.9 410.9,751.9 412.9,751.9 414.9,751.9 416.9,751.9 418.9,751.9 420.9,751.9 422.9,751.9 424.9,751.8 426.9,751.8 428.9,751.8 430.9,751.8 432.9,751.8 434.9,751.8 436.9,751.7 438.9,751.7 440.9,751.7 442.9,751.7 444.9,751.7 446.9,751.6 448.9,751.6 450.9,751.6 452.9,751.6 454.9,751.5 456.9,751.5 458.9,751.5 460.9,751.5 462.9,751.4 464.9,751.4 466.9,751.3 468.9,751.3 470.9,751.3 472.9,751.2 474.9,751.2 476.9,751.2 478.9,751.1 480.9,751.1 482.9,751.0 484.9,751.0 486.9,750.9 488.9,750.9 490.9,750.8 492.9,750.8 494.9,750.7 496.9,750.6 498.9,750.6 500.9,750.5 502.9,750.5 504.9,750.4 506.9,750.3 508.9,750.3 510.9,750.2 512.9,750.1 514.9,750.0 516.9,750.0 519.0,749.9 521.0,749.8 523.0,749.7 525.0,749.7 527.0,749.6 529.0,749.5 531.0,749.4 533.0,749.3 535.0,749.2 537.0,749.1 539.0,749.0 541.0,748.9 543.0,748.8 545.0,748.7 547.0,748.6 549.0,748.5 551.0,748.4 553.0,748.3 555.0,748.1 557.0,748.0 559.0,747.9 561.0,747.8 563.0,747.6 565.0,747.5 567.0,747.3 569.0,747.1 571.0,747.0 573.0,746.8 575.0,746.6 577.0,746.3 578.9,746.1 580.9,745.9 582.9,745.6 584.8,745.3 586.8,745.0 588.7,744.7 590.7,744.4 592.6,744.0 594.6,743.6 596.5,743.2 598.4,742.8 600.3,742.3 602.2,741.8 604.1,741.3 606.0,740.8 607.8,740.2 609.7,739.6 611.6,739.0 613.4,738.3 615.2,737.6 617.1,736.9 618.9,736.2 620.7,735.4 622.5,734.5 624.2,733.7 626.0,732.8 627.8,731.8 629.5,730.9 631.2,729.8 632.9,728.8 634.6,727.7 636.3,726.5 638.0,725.3 639.6,724.1 641.3,722.8 642.9,721.5 644.5,720.2 646.2,718.8 647.8,717.5 649.4,716.1 651.0,714.8 652.6,713.5 654.2,712.1 655.8,710.8 657.4,709.5 659.0,708.3 660.6,707.1 662.3,705.9 663.9,704.8 665.6,703.8 667.2,702.8 668.9,701.9 670.6,701.0 672.3,700.3 674.0,699.6 675.8,699.0 677.6,698.6 679.4,698.2 681.2,698.0 683.1,697.8 685.0,697.8 686.9,698.0 688.8,698.2 690.8,698.6 692.8,699.1 694.8,699.7 696.9,700.3 698.9,701.0 701.0,701.7 703.1,702.4 705.2,703.1 707.2,703.8 709.3,704.4 711.4,705.0 713.4,705.5 715.4,705.9 717.5,706.1 719.5,706.3 721.4,706.3 723.4,706.2 725.3,706.0 727.3,705.8 729.2,705.4 731.1,705.1 733.0,704.6 735.0,704.1 736.9,703.6 738.7,703.1 740.6,702.4 742.5,701.8 744.4,701.1 746.2,700.4 748.0,699.6 749.8,698.8 751.6,697.9 753.4,697.0 755.2,696.0 756.9,695.0 758.6,694.0 760.3,692.9 761.9,691.8 763.5,690.7 765.1,689.5 766.7,688.2 768.2,687.0 769.7,685.7 771.1,684.3 772.5,682.9 773.9,681.5 775.3,680.1 776.6,678.6 778.0,677.1 779.2,675.5 780.5,674.0 781.7,672.4 782.9,670.8 784.1,669.2 785.3,667.5 786.4,665.8 787.5,664.2 788.6,662.5 789.7,660.8 790.8,659.1 791.8,657.3 792.8,655.6 793.8,653.9 794.8,652.1 795.8,650.4 796.8,648.6 797.7,646.9 798.7,645.1 799.6,643.3 800.5,641.5 801.4,639.7 802.3,637.9 803.2,636.1 804.0,634.3 804.9,632.5 805.7,630.7 806.5,628.9 807.4,627.1 808.2,625.2 808.9,623.4 809.7,621.6 810.5,619.7 811.3,617.9 812.0,616.0 812.7,614.2 813.5,612.3 814.2,610.5 814.9,608.6 815.6,606.7 816.3,604.9 817.0,603.0 817.7,601.1 818.3,599.2 819.0,597.3 819.7,595.4 820.3,593.6 821.0,591.7 821.6,589.8 822.2,587.9 822.9,586.0 823.5,584.1 824.1,582.2 824.7,580.3 825.3,578.4 825.9,576.5 826.5,574.5 827.1,572.6 827.7,570.7 828.3,568.8 828.9,566.9 829.5,565.0 830.1,563.1 830.6,561.2 831.2,559.2 831.8,557.3 832.4,555.4 832.9,553.5 833.5,551.6 834.1,549.7 834.6,547.7 835.2,545.8 835.8,543.9 836.3,542.0 836.9,540.1 837.4,538.1 838.0,536.2 838.5,534.3 839.1,532.4 839.6,530.5 840.2,528.5 840.7,526.6 841.2,524.7 841.8,522.8 842.3,520.8 842.8,518.9 843.4,517.0 843.9,515.0 844.4,513.1 844.9,511.2 845.5,509.3 846.0,507.3 846.5,505.4 847.0,503.5 847.5,501.5 848.0,499.6 848.5,497.7 849.0,495.7 849.5,493.8 850.0,491.9 850.5,489.9 851.0,488.0 851.5,486.1 852.0,484.1 852.5,482.2 853.0,480.3 853.5,478.3 854.0,476.4 854.5,474.5 855.0,472.5 855.5,470.6 856.0,468.6 856.4,466.7 856.9,464.8 857.4,462.8 857.9,460.9 858.3,458.9 858.8,457.0 859.3,455.1 859.8,453.1 860.2,451.2 860.7,449.2 861.2,447.3 861.6,445.3 862.1,443.4 862.6,441.4 863.0,439.5 863.5,437.6 863.9,435.6 864.4,433.7 864.9,431.7 865.3,429.8 865.8,427.8 866.2,425.9 866.7,423.9 867.1,422.0 867.6,420.0 868.0,418.1 868.5,416.1 868.9,414.2 869.3,412.2 869.8,410.3 870.2,408.3 870.7,406.4 871.1,404.4 871.6,402.5 872.0,400.5 872.4,398.6 872.9,396.6 873.3,394.7 873.7,392.7 874.2,390.8 874.6,388.8 875.0,386.9 875.5,384.9 875.9,383.0 876.3,381.0 876.8,379.1 877.2,377.1 877.6,375.1 878.0,373.2 878.5,371.2 878.9,369.3 879.3,367.3 879.7,365.4 880.2,363.4 880.6,361.5 881.0,359.5 881.4,357.5 881.9,355.6 882.3,353.6 882.7,351.7 883.1,349.7 883.5,347.8 884.0,345.8 884.4,343.9 884.8,341.9 885.2,339.9 885.6,338.0 886.0,336.0 886.5,334.1 886.9,332.1 887.3,330.1 887.7,328.2 888.1,326.2 888.5,324.3 889.0,322.3 889.4,320.4 889.8,318.4 890.2,316.4 890.6,314.5 891.0,312.5 891.4,310.6 891.9,308.6 892.3,306.6 892.7,304.7 893.1,302.7 893.5,300.8 893.9,298.8 894.4,296.8 894.8,294.9 895.2,292.9 895.6,291.0 896.0,289.0 896.5,287.1 896.9,285.1 897.3,283.2 897.8,281.2 898.2,279.2 898.7,277.3 899.1,275.3 899.6,273.4 900.0,271.5 900.5,269.5 901.0,267.6 901.4,265.6 901.9,263.7 902.4,261.8 902.9,259.8 903.4,257.9 903.9,256.0 904.4,254.0 905.0,252.1 905.5,250.2 906.0,248.3 906.6,246.4 907.2,244.4 907.7,242.5 908.3,240.6 908.9,238.7 909.5,236.8 910.1,234.9 910.7,233.0 911.4,231.1 912.0,229.2 912.7,227.4 913.3,225.5 914.0,223.6 914.7,221.7 915.4,219.9 916.1,218.0 916.9,216.1 917.6,214.3 918.4,212.4 919.2,210.6 920.0,208.8 920.8,206.9 921.6,205.1 922.4,203.3 923.3,201.4 924.2,199.6 925.0,197.8 925.9,196.0 926.9,194.2 927.8,192.4 928.8,190.6 929.7,188.9 930.7,187.1 931.7,185.3 932.8,183.5 933.8,181.8 934.9,180.0 936.0,178.3 937.1,176.5 938.2,174.8 939.4,173.3 940.7,171.8 942.0,170.6 943.4,169.7 945.0,169.1 946.6,169.0 948.4,169.2 950.2,170.0 951.9,171.0 953.3,172.4 954.4,174.0 955.5,175.8 956.4,177.7 957.3,179.6 958.2,181.4 959.1,183.3 959.9,185.2 960.7,187.1 961.5,189.0 962.3,190.9 963.0,192.8 963.7,194.7 964.5,196.6 965.2,198.5 965.8,200.4 966.5,202.3 967.2,204.2 967.8,206.1 968.4,208.0 969.0,209.9 969.6,211.8 970.2,213.7 970.8,215.6 971.4,217.5 972.0,219.4 972.5,221.3 973.1,223.2 973.7,225.1 974.2,227.0 974.8,228.9 975.3,230.8 975.9,232.7 976.4,234.6 976.9,236.5 977.5,238.4 978.0,240.3 978.6,242.3 979.1,244.2 979.7,246.1 980.3,248.0 980.8,249.9 981.4,251.8 982.0,253.7 982.5,255.6 983.1,257.5 983.7,259.5 984.3,261.4 984.8,263.3 985.4,265.2 986.0,267.1 986.6,269.0 987.2,270.9 987.8,272.9 988.3,274.8 988.9,276.7 989.5,278.6 990.1,280.5 990.7,282.4 991.3,284.3 991.9,286.3 992.5,288.2 993.1,290.1 993.7,292.0 994.2,293.9 994.8,295.8 995.4,297.8 996.0,299.7 996.6,301.6 997.2,303.5 997.8,305.4 998.4,307.3 999.0,309.3 999.6,311.2 1000.1,313.1 1000.7,315.0 1001.3,316.9 1001.9,318.9 1002.5,320.8 1003.1,322.7 1003.6,324.6 1004.2,326.5 1004.8,328.4 1005.4,330.4 1005.9,332.3 1006.5,334.2 1007.1,336.1 1007.6,338.0 1008.2,339.9 1008.8,341.9 1009.3,343.8 1009.9,345.7 1010.5,347.6 1011.1,349.5 1011.7,351.4 1012.3,353.3 1012.9,355.2 1013.5,357.1 1014.1,359.0 1014.7,360.9 1015.4,362.7 1016.1,364.6 1016.7,366.5 1017.4,368.4 1018.1,370.2 1018.9,372.1 1019.6,373.9 1020.4,375.8 1021.1,377.6 1021.9,379.4 1022.8,381.3 1023.6,383.1 1024.5,384.9 1025.4,386.7 1026.3,388.5 1027.2,390.3 1028.2,392.0 1029.2,393.8 1030.2,395.5 1031.3,397.3 1032.4,399.0 1033.6,400.6 1034.8,402.2 1036.0,403.8 1037.3,405.4 1038.6,406.8 1040.0,408.2 1041.5,409.6 1043.0,410.9 1044.5,412.1 1046.1,413.2 1047.8,414.3 1049.6,415.3 1051.3,416.3 1053.1,417.2 1054.9,418.1 1056.7,419.0 1058.5,419.9 1060.4,420.8 1062.2,421.7 1063.9,422.6 1065.7,423.6 1067.4,424.6 1069.1,425.7 1070.7,426.8 1072.3,428.0 1073.9,429.2 1075.5,430.4 1077.0,431.7 1078.4,433.0 1079.9,434.3 1081.3,435.7 1082.7,437.2 1084.1,438.6 1085.4,440.1 1086.7,441.6 1088.0,443.1 1089.3,444.7 1090.5,446.3 1091.7,447.9 1092.9,449.5 1094.1,451.1 1095.3,452.8 1096.4,454.5 1097.5,456.2 1098.6,457.9 1099.7,459.6 1100.8,461.3 1101.8,463.1 1102.8,464.8 1103.9,466.6 1104.9,468.3 1105.9,470.1 1106.9,471.8 1107.8,473.6 1108.8,475.3 1109.8,477.1 1110.7,478.9 1111.7,480.6 1112.6,482.4 1113.5,484.1 1114.4,485.9 1115.3,487.6 1116.3,489.4 1117.1,491.2 1118.0,492.9 1118.9,494.7 1119.8,496.4 1120.7,498.2 1121.5,500.0 1122.4,501.7 1123.3,503.5 1124.1,505.3 1125.0,507.1 1125.8,508.8 1126.7,510.6 1127.5,512.4 1128.3,514.2 1129.2,515.9 1130.0,517.7 1130.9,519.5 1131.7,521.3 1132.5,523.1 1133.4,524.9 1134.2,526.7 1135.0,528.5 1135.9,530.3 1136.7,532.1 1137.5,533.9 1138.4,535.7 1139.2,537.5 1140.0,539.3 1140.9,541.1 1141.7,543.0 1142.6,544.8 1143.4,546.6 1144.3,548.4 1145.2,550.3 1146.0,552.1 1146.9,554.0 1147.8,555.8 1148.7,557.7 1149.6,559.5 1150.5,561.4 1151.4,563.3 1152.3,565.1 1153.2,567.0 1154.1,568.8 1155.1,570.7 1156.0,572.5 1157.0,574.4 1158.0,576.2 1159.0,578.0 1160.0,579.8 1161.1,581.5 1162.1,583.3 1163.2,585.0 1164.3,586.7 1165.5,588.4 1166.6,590.1 1167.8,591.7 1169.0,593.3 1170.2,594.8 1171.5,596.4 1172.7,597.8 1174.1,599.3 1175.4,600.7 1176.8,602.0 1178.2,603.3 1179.6,604.6 1181.1,605.8 1182.6,607.0 1184.2,608.1 1185.8,609.1 1187.4,610.1 1189.1,611.1 1190.8,611.9 1192.6,612.8 1194.4,613.5 1196.2,614.2 1198.0,614.8 1199.9,615.4 1201.8,616.0 1203.8,616.4 1205.7,616.9 1207.7,617.2 1209.7,617.5 1211.7,617.8 1213.7,618.0 1215.7,618.2 1217.7,618.3 1219.7,618.3 1221.8,618.4 1223.8,618.3 1225.8,618.3 1227.8,618.1 1229.9,618.0 1231.9,617.8 1233.9,617.5 1235.9,617.2 1237.9,616.9 1239.8,616.5 1241.8,616.1 1243.8,615.7 1245.8,615.2 1247.7,614.7 1249.7,614.2 1251.6,613.7 1253.6,613.1 1255.5,612.5 1257.4,611.9 1259.3,611.2 1261.2,610.6 1263.1,609.9 1265.0,609.2 1266.9,608.5 1268.8,607.7 1270.6,607.0 1272.5,606.2 1274.3,605.5 1276.2,604.7 1278.0,603.9 1279.9,603.2 1281.7,602.4 1283.5,601.6 1285.4,600.8 1287.2,600.0 1289.0,599.2 1290.9,598.5 1292.7,597.7 1294.5,596.9 1296.4,596.2 1298.2,595.4 1300.1,594.7 1301.9,594.0 1303.8,593.2 1305.6,592.6 1307.5,591.9 1309.4,591.2 1311.2,590.6 1313.1,590.0 1315.0,589.4 1316.9,588.9 1318.9,588.3 1320.8,587.8 1322.7,587.3 1324.7,586.9 1326.7,586.5 1328.7,586.1 1330.6,585.8 1332.6,585.4 1334.6,585.1 1336.6,584.9 1338.7,584.7 1340.7,584.5 1342.7,584.3 1344.7,584.2 1346.7,584.1 1348.8,584.0 1350.8,584.0 1352.8,584.0 1354.9,584.0 1356.9,584.1 1358.9,584.2 1360.9,584.3 1362.9,584.5 1364.9,584.7 1366.9,585.0 1368.9,585.2 1370.9,585.5 1372.9,585.9 1374.9,586.3 1376.8,586.7 1378.8,587.1 1380.7,587.6 1382.6,588.1 1384.5,588.7 1386.4,589.3 1388.3,589.9 1390.1,590.6 1392.0,591.3 1393.8,592.0 1395.6,592.8 1397.4,593.6 1399.1,594.4 1400.9,595.3 1402.6,596.3 1404.3,597.2 1406.0,598.2 1407.6,599.2 1409.3,600.3 1410.9,601.4 1412.5,602.5 1414.1,603.7 1415.7,604.8 1417.2,606.0 1418.8,607.3 1420.3,608.5 1421.8,609.8 1423.3,611.1 1424.8,612.4 1426.3,613.7 1427.7,615.1 1429.2,616.5 1430.6,617.8 1432.1,619.3 1433.5,620.7 1434.9,622.1 1436.3,623.6 1437.8,625.0 1439.2,626.5 1440.6,628.0 1442.0,629.4 1443.3,630.9 1444.7,632.4 1446.1,633.9 1447.5,635.4 1448.9,636.9 1450.3,638.4 1451.6,640.0 1453.0,641.5 1454.4,643.0 1455.8,644.5 1457.2,646.0 1458.6,647.5 1460.0,649.0 1461.4,650.4 1462.8,651.9 1464.2,653.4 1465.6,654.9 1467.0,656.3 1468.4,657.8 1469.8,659.2 1471.2,660.7 1472.7,662.1 1474.1,663.5 1475.5,664.9 1477.0,666.3 1478.4,667.7 1479.9,669.1 1481.4,670.5 1482.8,671.8 1484.3,673.2 1485.8,674.5 1487.3,675.9 1488.8,677.2 1490.3,678.5 1491.8,679.8 1493.3,681.0 1494.8,682.3 1496.4,683.6 1497.9,684.8 1499.5,686.0 1501.0,687.2 1502.6,688.4 1504.2,689.6 1505.8,690.8 1507.4,691.9 1509.0,693.0 1510.6,694.1 1512.2,695.2 1513.9,696.3 1515.5,697.4 1517.2,698.4 1518.9,699.4 1520.5,700.4 1522.2,701.4 1524.0,702.4 1525.7,703.3 1527.4,704.2 1529.2,705.1 1530.9,706.0 1532.7,706.9 1534.5,707.7 1536.3,708.5 1538.1,709.3 1539.9,710.0 1541.7,710.8 1543.6,711.5 1545.5,712.2 1547.3,712.9 1549.2,713.5 1551.1,714.2 1553.0,714.8 1554.9,715.4 1556.9,716.0 1558.8,716.5 1560.7,717.1 1562.7,717.6 1564.6,718.1 1566.6,718.6 1568.6,719.0 1570.6,719.5 1572.5,719.9 1574.5,720.3 1576.5,720.8 1578.5,721.1 1580.5,721.5 1582.5,721.9 1584.5,722.2 1586.5,722.6 1588.5,722.9 1590.5,723.2 1592.5,723.5 1594.6,723.8 1596.6,724.1 1598.6,724.3 1600.6,724.6 1602.6,724.8 1604.6,725.0 1606.6,725.3 1608.6,725.5 1610.6,725.7 1612.6,725.9 1614.6,726.1 1616.6,726.2 1618.6,726.4 1620.6,726.6 1622.6,726.7 1624.6,726.8 1626.6,727.0 1628.6,727.1 1630.6,727.2 1632.6,727.3 1634.6,727.4 1636.6,727.5 1638.6,727.6 1640.5,727.7 1642.5,727.8 1644.5,727.8 1646.5,727.9 1648.5,728.0 1650.5,728.0 1652.5,728.1 1654.5,728.1 1656.4,728.1 1658.4,728.2 1660.4,728.2 1662.4,728.2 1664.4,728.2 1666.4,728.3 1668.4,728.3 1670.3,728.3 1672.3,728.3 1674.3,728.3 1676.3,728.3 1678.3,728.3 1680.3,728.3 1682.3,728.2 1684.3,728.2 1686.2,728.2 1688.2,728.2 1690.2,728.2 1692.2,728.1 1694.2,728.1 1696.2,728.1 1698.2,728.1 1700.2,728.0 1702.2,728.0 1704.1,728.0 1706.1,728.0 1708.1,727.9 1710.1,727.9 1712.1,727.9 1714.1,727.8 1716.1,727.8 1718.1,727.8 1720.1,727.8 1722.1,727.7 1724.1,727.7 1726.1,727.7 1728.1,727.7 1730.1,727.6 1732.1,727.6 1734.1,727.6 1736.1,727.6 1738.1,727.5 1740.1,727.5 1742.1,727.5 1744.2,727.4 1746.2,727.4 1748.2,727.3 1750.2,727.3 1752.2,727.2 1754.2,727.2 1756.2,727.1 1758.2,727.1 1760.2,727.0 1762.2,726.9 1764.2,726.9 1766.2,726.8 1768.2,726.7 1770.2,726.6 1772.2,726.5 1774.2,726.4 1776.2,726.3 1778.2,726.2 1780.2,726.1 1782.2,726.0 1784.2,725.8 1786.2,725.7 1788.2,725.6 1790.2,725.4 1792.2,725.3 1794.2,725.1 1796.2,725.0 1798.2,724.8 1800.2,724.6 1802.2,724.5 1804.2,724.3 1806.2,724.1 1808.2,723.9 1810.2,723.7 1812.2,723.6 1814.1,723.4 1816.1,723.2 1818.1,723.0 1820.1,722.8 1822.1,722.6 1824.1,722.4 1826.1,722.1 1828.1,721.9 1830.1,721.7 1832.1,721.5 1834.0,721.3 1836.0,721.1 1838.0,720.9 1840.0,720.6 1842.0,720.4 1844.0,720.2 1846.0,720.0 1848.0,719.7 1849.9,719.5 1851.9,719.3 1853.9,719.0 1855.9,718.8 1857.9,718.6 1859.9,718.4 1861.9,718.1 1863.8,717.9 1865.8,717.7 1867.8,717.5 1869.8,717.2 1871.8,717.0 1873.8,716.8 1875.8,716.6 1877.7,716.3 1879.7,716.1 1881.7,715.9 1883.7,715.7 1885.7,715.5 1887.7,715.2 1889.7,715.0 1891.7,714.8 1893.6,714.6 1895.6,714.4 1897.6,714.2 1899.6,714.0 1901.6,713.8 1903.6,713.6 1905.6,713.4 1907.6,713.3 1909.5,713.1 1911.5,712.9 1913.5,712.7 1915.5,712.5 1917.5,712.4 1919.5,712.2 1921.5,712.1 1923.5,711.9 1925.5,711.8 1927.5,711.6 1929.4,711.5 1931.4,711.3 1933.4,711.2 1935.4,711.1 1937.4,711.0 1939.4,710.8 1941.4,710.7 1943.4,710.6 1945.4,710.5 1947.4,710.5 1949.4,710.4 1951.4,710.3 1953.4,710.2 1955.4,710.2 1957.4,710.1 1959.4,710.1 1961.4,710.0 1963.4,710.0 1965.4,710.0 1967.4,709.9 1969.4,709.9 1971.4,709.9 1973.4,709.9 1975.4,710.0 1977.4,710.0 1979.4,710.1 1981.4,710.1 1983.4,710.2 1985.4,710.4 1987.4,710.5 1989.3,710.6 1991.3,710.8 1993.3,711.0 1995.3,711.2 1997.3,711.5 1999.2,711.8 2001.2,712.1 2003.1,712.4 2005.1,712.8 2007.1,713.2 2009.0,713.6 2010.9,714.1 2012.9,714.6 2014.8,715.2 2016.7,715.7 2018.6,716.3 2020.6,716.9 2022.5,717.6 2024.4,718.2 2026.3,718.9 2028.2,719.5 2030.1,720.2 2032.0,720.9 2033.9,721.6 2035.8,722.2 2037.7,722.9 2039.6,723.6 2041.5,724.2 2043.4,724.9 2045.4,725.5 2047.3,726.1 2049.2,726.7 2051.1,727.2 2053.1,727.7 2055.0,728.2 2056.9,728.7 2058.9,729.2 2060.8,729.6 2062.8,730.1 2064.7,730.5 2066.7,730.9 2068.6,731.2 2070.6,731.6 2072.6,732.0 2074.5,732.3 2076.5,732.7 2078.4,733.0 2080.4,733.3 2082.4,733.7 2084.3,734.0 2086.3,734.3 2088.3,734.7 2090.3,735.0 2092.2,735.3 2094.2,735.7 2096.2,736.0 2098.1,736.3 2100.1,736.7 2102.0,737.1 2104.0,737.5 2106.0,737.9 2107.9,738.3 2109.9,738.7 2111.8,739.1 2113.8,739.6 2115.7,740.1 2117.7,740.6 2119.6,741.1 2121.5,741.6 2123.5,742.2 2125.4,742.8 2127.3,743.4" stroke="#008000"/>
</g>
<g class="serif" font-size="93" fill="#000"><text x="332.0" y="1773" text-anchor="middle">100</text><text x="694.0" y="1773" text-anchor="middle">200</text><text x="1057.0" y="1773" text-anchor="middle">300</text><text x="1420.0" y="1773" text-anchor="middle">400</text><text x="1783.0" y="1773" text-anchor="middle">500</text><text x="2146.0" y="1773" text-anchor="middle">600</text></g>
<g class="serif" fill="#000">
<text transform="translate(788,1884.2) scale(0.988,1)" font-size="101">Temperature</text>
<text transform="translate(1340,1883) scale(1,1)" font-size="77">(</text>
<text x="1365.2" y="1841" font-size="100">o</text>
<text transform="translate(1413.1,1884.5) scale(1.05,1)" font-size="101">C</text>
<text transform="translate(1485.5,1883) scale(1,1)" font-size="77">)</text>
</g>
<text class="serif" transform="translate(91,1277) rotate(-90)" x="0" y="0" font-size="99" fill="#000">H<tspan dy="30">2</tspan><tspan dy="-30"> Consumption</tspan></text>
<g fill="#000">
<text class="sb" transform="translate(220.9,175.9) scale(0.918,1.097)" font-size="71">x</text><text class="sb" transform="translate(260.7,175.9) scale(0.9117,1)" font-size="71">CuHAp</text>
<text class="sb" transform="translate(204.4,739.0) scale(0.9,1)" font-size="78">20</text><text class="sb" transform="translate(303.5,739.0) scale(1.179,1)" font-size="78">%</text>
<text class="sb" transform="translate(197.9,920.0) scale(0.9,1)" font-size="78">15</text><text class="sb" transform="translate(297.8,920.0) scale(1.179,1)" font-size="78">%</text>
<text class="sb" transform="translate(193.9,1141.8) scale(0.9,1)" font-size="78">10</text><text class="sb" transform="translate(294.8,1141.8) scale(1.179,1)" font-size="78">%</text>
<text class="sb" transform="translate(209.3,1322.4) scale(0.9,1)" font-size="78">5</text><text class="sb" transform="translate(260.6,1322.4) scale(1.179,1)" font-size="78">%</text>
<text class="sb" transform="translate(198.3,1514.0) scale(0.9,1)" font-size="78">2</text><text class="sb" transform="translate(248.9,1514.0) scale(1.179,1)" font-size="78">%</text>
</g>
</svg>
</body></html>
